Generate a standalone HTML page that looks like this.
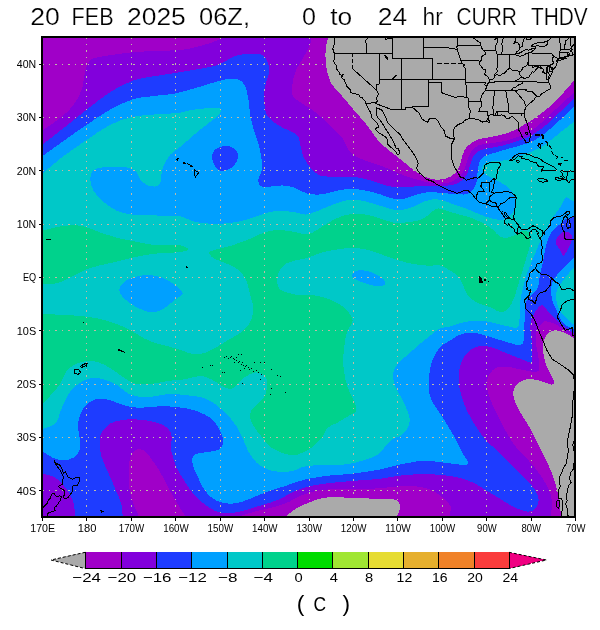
<!DOCTYPE html>
<html><head><meta charset="utf-8"><title>CURR THDV</title>
<style>html,body{margin:0;padding:0;background:#fff}body{width:600px;height:630px;position:relative;overflow:hidden;font-family:"Liberation Sans",sans-serif}</style></head>
<body>
<svg width="600" height="630" viewBox="0 0 600 630" style="position:absolute;left:0;top:0">
<defs><clipPath id="cp"><rect x="42" y="37" width="533" height="480"/></clipPath></defs>
<rect x="0" y="0" width="600" height="630" fill="#fff"/>
<g clip-path="url(#cp)" shape-rendering="crispEdges">
<rect x="42" y="37" width="533" height="480" fill="#8200dc"/>
<path d="M221.5,30.0 C221.4,31.3 223.0,35.8 221.0,38.0 C219.0,40.2 214.3,41.6 209.7,43.2 C205.1,44.8 198.6,46.6 193.3,47.8 C188.0,49.0 184.1,49.7 178.0,50.2 C171.9,50.7 164.5,50.5 156.7,50.9 C148.9,51.3 140.7,51.5 131.0,52.5 C121.3,53.5 105.1,55.8 98.3,57.2 C91.5,58.6 92.3,58.6 90.2,60.7 C88.1,62.8 86.9,65.3 85.5,70.0 C84.1,74.7 83.8,83.2 82.0,88.7 C80.2,94.2 78.1,98.2 75.0,102.7 C71.9,107.2 68.8,110.8 63.3,115.5 C57.8,120.2 47.8,126.8 42.3,130.7 C36.8,134.6 32.0,137.6 30.0,139.0 L22.0,139.0 L22.0,17.0 L221.5,17.0 Z" fill="#a000c8"/>
<path d="M311.5,30.0 C311.4,31.3 311.2,35.6 311.0,38.0 C310.8,40.4 311.3,40.9 310.0,44.3 C308.7,47.7 305.3,54.0 303.0,58.3 C300.7,62.6 297.8,65.7 296.0,70.0 C294.2,74.3 293.0,79.7 292.5,84.0 C292.0,88.3 291.4,92.6 292.8,95.7 C294.2,98.8 297.7,100.3 300.7,102.5 C303.7,104.7 307.2,106.2 311.0,109.0 C314.8,111.8 319.3,115.4 323.3,119.0 C327.3,122.6 331.7,127.4 335.0,130.7 C338.3,134.0 340.9,135.6 343.1,138.7 C345.4,141.8 346.1,146.4 348.5,149.5 C350.9,152.6 353.9,155.1 357.2,157.1 C360.4,159.1 364.0,159.9 368.0,161.4 C372.0,162.9 376.7,164.2 381.0,165.8 C385.3,167.4 389.7,169.4 394.0,171.2 C398.3,173.0 402.4,175.0 407.0,176.6 C411.6,178.2 417.3,179.7 421.7,180.8 C426.1,181.9 429.4,182.9 433.3,183.3 C437.2,183.7 441.7,183.7 445.0,183.3 C448.3,182.9 450.8,182.1 453.3,180.8 C455.8,179.6 458.1,177.8 460.0,175.8 C461.9,173.8 463.4,171.4 464.6,168.8 C465.9,166.2 466.4,162.8 467.5,160.0 C468.6,157.2 469.1,154.2 471.0,151.7 C472.9,149.2 475.6,146.6 479.0,145.2 C482.4,143.8 487.4,143.9 491.7,143.2 C496.0,142.5 500.6,141.9 504.7,141.0 C508.8,140.1 512.7,138.8 516.4,137.5 C520.1,136.2 523.8,134.5 526.7,133.0 C529.6,131.5 531.6,130.4 534.0,128.7 C536.4,127.0 538.8,124.9 541.3,122.8 C543.8,120.7 546.2,118.5 548.7,116.2 C551.2,113.9 553.6,111.3 556.0,109.0 C558.4,106.7 560.6,104.8 563.3,102.3 C566.0,99.8 568.5,97.6 572.1,94.2 C575.7,90.8 582.9,84.0 585.0,82.0 L595.0,82.0 L595.0,17.0 L311.5,17.0 Z" fill="#a000c8"/>
<path d="M585.0,343.0 C583.2,341.9 577.0,338.4 574.0,336.6 C571.0,334.8 569.1,333.8 567.0,332.3 C564.9,330.9 563.4,329.2 561.6,327.9 C559.8,326.6 558.0,325.6 556.2,324.7 C554.4,323.8 552.8,323.1 550.8,322.5 C548.8,321.9 546.1,320.8 544.3,321.4 C542.5,321.9 541.2,324.2 539.9,325.8 C538.6,327.4 537.4,329.3 536.7,331.2 C536.0,333.1 535.6,334.5 535.6,337.3 C535.6,340.1 536.2,344.6 536.7,348.2 C537.2,351.8 538.4,355.8 538.8,359.0 C539.2,362.2 539.6,365.5 539.3,367.7 C538.9,369.9 538.6,371.5 536.7,372.0 C534.8,372.5 531.2,371.4 528.0,370.9 C524.8,370.4 520.8,369.5 517.2,368.8 C513.6,368.1 509.7,366.8 506.3,366.6 C502.9,366.4 499.3,366.6 496.6,367.7 C493.9,368.8 491.7,370.8 490.1,373.1 C488.5,375.5 487.2,378.7 486.8,381.8 C486.4,384.9 487.0,387.7 487.9,391.5 C488.8,395.3 490.7,400.5 492.3,404.5 C493.9,408.5 495.9,411.7 497.7,415.3 C499.5,418.9 501.4,422.9 503.1,426.2 C504.8,429.5 505.9,431.5 508.0,435.0 C510.1,438.5 512.5,442.6 516.0,447.0 C519.5,451.4 525.3,456.7 529.3,461.3 C533.3,465.9 536.9,470.2 540.0,474.7 C543.1,479.1 546.0,483.6 548.0,488.0 C550.0,492.4 551.5,496.5 552.0,501.3 C552.5,506.1 551.0,512.2 550.7,517.0 C550.4,521.8 550.1,527.8 550.0,530.0 L550.0,537.0 L595.0,537.0 L595.0,343.0 Z" fill="#a000c8"/>
<path d="M141.0,530.0 C140.6,527.7 140.0,520.3 138.7,516.0 C137.4,511.7 134.9,508.7 133.3,504.0 C131.7,499.3 130.1,493.8 129.3,488.0 C128.6,482.2 128.6,474.6 128.8,469.3 C129.0,464.0 129.3,459.3 130.7,456.0 C132.1,452.7 134.9,450.1 137.3,449.3 C139.7,448.6 142.8,449.6 145.3,451.5 C147.8,453.4 150.1,457.2 152.5,460.5 C154.9,463.8 157.2,467.1 159.5,471.0 C161.8,474.9 164.2,479.7 166.5,484.0 C168.8,488.3 171.2,492.9 173.5,497.0 C175.8,501.1 178.4,505.2 180.5,508.5 C182.6,511.8 184.1,513.8 186.0,517.0 C187.9,520.2 191.0,526.2 192.0,528.0 L192.0,537.0 L141.0,537.0 Z" fill="#a000c8"/>
<path d="M225.0,524.0 C227.2,522.8 234.1,518.8 238.0,517.0 C241.9,515.2 244.7,514.5 248.7,513.3 C252.7,512.1 257.6,511.0 262.0,509.9 C266.4,508.8 270.9,508.0 275.3,506.7 C279.8,505.4 284.6,503.8 288.7,502.0 C292.8,500.2 295.3,497.9 300.0,496.0 C304.7,494.1 311.2,491.8 316.7,490.7 C322.1,489.6 327.4,489.5 332.7,489.3 C338.0,489.1 343.4,489.3 348.7,489.3 C354.0,489.3 359.4,489.5 364.7,489.3 C370.0,489.1 375.4,488.4 380.7,488.0 C386.0,487.6 391.8,487.1 396.7,486.7 C401.6,486.3 405.6,485.8 410.0,485.9 C414.4,486.0 419.3,486.6 423.3,487.5 C427.3,488.4 430.6,489.6 434.0,491.5 C437.4,493.4 441.2,496.2 444.0,498.7 C446.8,501.2 449.8,503.6 450.7,506.7 C451.6,509.8 449.9,513.1 449.3,517.0 C448.7,520.9 447.4,527.8 447.0,530.0 L447.0,537.0 L225.0,537.0 Z" fill="#a000c8"/>
<path d="M328.5,30.0 C328.4,31.3 328.5,34.8 328.0,38.0 C327.5,41.2 326.0,44.5 325.7,49.0 C325.4,53.5 325.3,59.8 326.1,65.3 C326.9,70.8 328.0,77.0 330.3,81.7 C332.6,86.4 335.8,88.6 339.7,93.3 C343.6,98.0 349.0,104.2 353.7,109.7 C358.4,115.2 363.9,121.2 367.7,126.0 C371.5,130.8 373.8,135.1 376.7,138.7 C379.6,142.2 382.1,144.4 385.3,147.3 C388.6,150.2 392.6,153.1 396.2,156.0 C399.8,158.9 403.6,162.0 407.0,164.7 C410.4,167.4 413.4,170.2 416.7,172.3 C420.0,174.4 423.4,176.3 426.7,177.5 C430.0,178.7 433.4,179.6 436.7,179.7 C440.0,179.8 443.6,179.4 446.7,178.3 C449.8,177.2 452.8,175.5 455.0,173.3 C457.2,171.1 458.8,168.0 460.0,165.0 C461.2,162.0 461.3,158.6 462.5,155.5 C463.7,152.4 464.5,149.2 467.0,146.5 C469.5,143.8 473.9,141.2 477.7,139.6 C481.5,138.0 485.5,138.2 490.0,137.2 C494.5,136.2 500.3,135.1 504.7,133.8 C509.1,132.5 513.2,130.9 516.4,129.4 C519.6,127.9 521.2,126.3 523.7,124.8 C526.2,123.3 528.7,122.1 531.1,120.6 C533.5,119.0 535.5,117.7 538.4,115.5 C541.3,113.3 545.8,110.0 548.7,107.4 C551.6,104.9 553.6,102.6 556.0,100.2 C558.4,97.8 561.3,94.9 563.3,92.8 C565.3,90.7 566.1,89.7 568.0,87.5 C569.9,85.3 571.7,83.2 574.5,79.8 C577.3,76.4 583.2,69.1 585.0,67.0 L595.0,67.0 L595.0,17.0 L328.5,17.0 Z" fill="#aaaaaa"/>
<path d="M585.0,344.0 C583.1,343.0 577.2,339.8 573.5,337.8 C569.8,335.8 566.1,333.1 562.7,331.9 C559.3,330.7 555.6,330.1 552.9,330.6 C550.2,331.2 548.0,333.0 546.4,335.2 C544.8,337.4 543.7,340.6 543.2,343.8 C542.7,347.1 543.1,351.1 543.6,354.7 C544.1,358.3 545.2,362.2 546.4,365.5 C547.6,368.8 549.5,371.5 550.8,374.2 C552.1,376.9 553.8,380.1 554.0,381.8 C554.2,383.5 553.6,384.6 551.8,384.6 C550.0,384.6 546.1,382.6 543.2,381.8 C540.3,381.0 537.4,380.0 534.5,379.6 C531.6,379.2 528.5,379.1 525.8,379.6 C523.1,380.1 520.3,381.2 518.3,382.8 C516.3,384.4 514.6,386.8 513.9,389.3 C513.2,391.8 513.2,394.8 513.9,398.0 C514.6,401.2 516.5,405.2 518.3,408.8 C520.1,412.4 522.7,416.2 524.8,419.7 C526.9,423.2 529.3,426.9 531.0,430.0 C532.7,433.1 533.3,435.1 535.0,438.5 C536.7,441.9 539.1,446.4 541.3,450.7 C543.5,454.9 546.0,459.6 548.0,464.0 C550.0,468.4 551.8,472.9 553.3,477.3 C554.8,481.8 556.3,486.6 557.3,490.7 C558.3,494.8 558.9,497.8 559.5,502.0 C560.1,506.2 560.6,511.3 561.0,516.0 C561.4,520.7 561.8,527.7 562.0,530.0 L562.0,537.0 L595.0,537.0 L595.0,344.0 Z" fill="#aaaaaa"/>
<path d="M278.0,524.0 C279.2,522.8 282.8,519.0 285.0,517.0 C287.2,515.0 288.9,513.7 291.3,512.0 C293.7,510.3 296.4,508.2 299.3,506.7 C302.2,505.1 304.9,504.1 308.7,502.7 C312.5,501.3 317.1,499.0 322.0,498.1 C326.9,497.2 332.2,497.3 338.0,497.3 C343.8,497.3 350.5,497.9 356.7,498.1 C362.9,498.3 369.3,498.5 375.3,498.7 C381.3,498.9 388.8,498.5 392.7,499.2 C396.6,499.9 397.6,501.0 398.8,502.7 C400.0,504.4 400.2,506.9 399.9,509.3 C399.5,511.7 397.8,513.9 396.7,517.0 C395.6,520.1 393.6,526.2 393.0,528.0 L393.0,537.0 L278.0,537.0 Z" fill="#aaaaaa"/>
<path d="M30.0,153.5 C32.0,152.0 36.8,148.9 42.3,144.7 C47.8,140.5 55.9,134.1 63.3,128.3 C70.7,122.5 78.9,115.7 86.7,109.7 C94.5,103.7 102.2,97.1 110.0,92.2 C117.8,87.3 125.5,83.2 133.3,80.5 C141.1,77.8 149.8,77.0 156.7,75.8 C163.6,74.5 168.9,74.0 175.0,73.0 C181.1,72.0 186.4,71.3 193.3,70.0 C200.2,68.7 210.5,67.2 216.7,65.3 C222.9,63.3 226.8,60.0 230.7,58.3 C234.6,56.5 235.3,55.5 240.0,54.8 C244.7,54.1 254.4,53.5 258.7,54.1 C263.0,54.7 263.9,56.0 265.7,58.3 C267.4,60.6 268.8,64.6 269.2,67.7 C269.6,70.8 268.8,73.5 268.0,77.0 C267.2,80.5 265.1,84.0 264.5,88.7 C263.9,93.4 263.9,100.3 264.5,105.0 C265.1,109.7 265.5,113.2 268.0,116.7 C270.5,120.2 275.4,123.3 279.7,126.0 C284.0,128.7 290.5,131.1 293.7,133.0 C296.9,134.9 297.5,135.1 298.7,137.5 C299.9,139.9 299.9,143.9 300.8,147.3 C301.7,150.8 302.3,154.6 304.1,158.2 C305.9,161.8 309.0,166.1 311.7,169.0 C314.4,171.9 316.7,174.3 320.3,175.6 C323.9,176.9 329.0,176.4 333.3,176.6 C337.6,176.8 342.0,176.4 346.3,176.6 C350.6,176.8 355.0,177.0 359.3,177.7 C363.6,178.4 368.0,179.6 372.3,180.9 C376.6,182.2 381.0,184.2 385.3,185.3 C389.6,186.4 394.0,187.2 398.3,187.4 C402.6,187.7 407.4,187.1 411.3,186.8 C415.2,186.5 418.0,186.0 421.7,185.8 C425.4,185.6 429.4,185.8 433.3,185.8 C437.2,185.8 441.4,186.1 445.0,185.8 C448.6,185.5 452.1,185.2 455.0,184.2 C457.9,183.2 460.5,181.7 462.5,180.0 C464.5,178.3 465.8,176.3 467.0,174.0 C468.2,171.7 469.1,168.7 470.0,166.0 C470.9,163.3 471.3,160.3 472.5,158.0 C473.7,155.7 475.0,153.5 477.0,152.0 C479.0,150.5 481.7,149.8 484.5,149.0 C487.3,148.2 490.6,148.1 494.0,147.4 C497.4,146.7 501.0,146.0 504.7,145.0 C508.4,144.0 512.7,142.5 516.4,141.3 C520.1,140.1 523.8,138.8 526.7,137.6 C529.6,136.3 531.6,135.3 534.0,133.8 C536.4,132.3 538.8,130.6 541.3,128.8 C543.8,127.0 546.2,125.0 548.7,122.8 C551.2,120.6 553.6,117.9 556.0,115.6 C558.4,113.3 560.6,111.6 563.3,109.0 C566.0,106.4 569.9,102.4 572.1,100.2 C574.3,98.0 574.2,98.2 576.5,95.8 C578.8,93.4 584.4,87.6 586.0,86.0 L595.0,86.0 L595.0,341.0 L586.0,341.0 C584.0,339.7 576.8,335.1 574.0,333.3 C571.2,331.5 571.1,331.4 569.2,330.1 C567.3,328.9 564.5,327.2 562.7,325.8 C560.9,324.4 559.9,323.0 558.3,321.4 C556.7,319.8 554.7,317.8 552.9,316.0 C551.1,314.2 549.3,312.4 547.5,310.6 C545.7,308.8 543.9,305.4 542.1,305.2 C540.3,305.0 538.2,307.9 536.7,309.5 C535.2,311.1 534.4,312.9 533.4,314.9 C532.4,316.9 531.4,319.0 530.9,321.4 C530.4,323.8 530.3,325.6 530.4,329.0 C530.5,332.4 531.4,337.4 531.7,341.7 C532.0,346.0 532.4,351.3 532.3,354.7 C532.2,358.1 532.7,361.4 531.3,362.3 C529.9,363.2 526.8,361.2 523.7,360.1 C520.6,359.0 516.4,357.2 512.8,355.8 C509.2,354.4 505.6,352.8 502.0,351.4 C498.4,349.9 494.8,348.0 491.2,347.1 C487.6,346.2 483.6,345.6 480.3,346.0 C477.1,346.4 474.4,347.5 471.7,349.3 C469.0,351.1 466.1,353.7 464.1,356.8 C462.1,359.9 460.7,363.7 459.8,367.7 C458.9,371.7 458.5,376.4 458.7,380.7 C458.9,385.0 459.7,389.4 460.8,393.7 C461.9,398.0 463.6,402.7 465.2,406.7 C466.8,410.7 468.6,413.9 470.6,417.5 C472.6,421.1 474.9,424.9 477.1,428.3 C479.3,431.7 481.5,435.1 484.0,438.0 C486.5,440.9 488.0,442.1 492.0,446.0 C496.0,449.9 502.7,456.1 508.0,461.3 C513.3,466.5 519.5,472.6 524.0,477.3 C528.5,482.0 532.2,485.5 534.7,489.3 C537.2,493.1 538.7,496.7 538.7,500.0 C538.7,503.3 536.7,507.4 534.7,509.3 C532.7,511.2 530.3,511.9 526.7,511.5 C523.1,511.1 517.8,508.8 513.3,506.7 C508.8,504.6 504.4,501.4 500.0,498.7 C495.6,496.0 491.1,493.4 486.7,490.7 C482.2,488.0 478.2,484.9 473.3,482.7 C468.4,480.5 463.1,478.6 457.3,477.3 C451.5,476.0 444.6,475.2 438.7,474.7 C432.8,474.2 426.8,474.3 422.0,474.3 C417.2,474.3 414.2,474.4 410.0,474.7 C405.8,475.0 401.6,475.3 396.7,476.0 C391.8,476.7 386.0,478.0 380.7,478.7 C375.4,479.4 370.0,479.6 364.7,480.0 C359.4,480.4 354.0,480.9 348.7,481.3 C343.4,481.8 338.0,482.1 332.7,482.7 C327.4,483.3 321.6,483.9 316.7,484.8 C311.8,485.7 307.4,486.7 303.3,488.0 C299.2,489.3 295.7,490.8 292.0,492.5 C288.3,494.2 284.7,496.8 281.0,498.5 C277.3,500.2 274.1,501.3 270.0,502.7 C265.9,504.1 261.1,505.4 256.7,506.7 C252.2,508.0 247.8,509.6 243.3,510.7 C238.9,511.8 234.2,513.1 230.0,513.3 C225.8,513.5 222.0,513.3 218.0,512.0 C214.0,510.7 210.0,508.2 206.0,505.3 C202.0,502.4 197.6,498.7 194.0,494.7 C190.4,490.7 187.6,485.8 184.7,481.3 C181.8,476.9 178.7,472.2 176.7,468.0 C174.7,463.8 173.7,459.6 172.7,456.0 C171.7,452.4 170.9,449.8 170.8,446.7 C170.7,443.6 172.2,440.2 171.9,437.3 C171.6,434.4 170.6,431.5 168.7,429.3 C166.8,427.1 164.3,425.5 160.7,424.0 C157.1,422.5 152.3,421.3 147.0,420.5 C141.7,419.7 134.1,419.1 128.7,419.3 C123.3,419.5 118.2,420.6 114.7,421.7 C111.2,422.8 109.7,423.6 107.4,425.6 C105.1,427.6 102.4,430.9 101.1,433.5 C99.8,436.1 99.5,437.6 99.5,441.4 C99.5,445.1 99.9,450.9 101.3,456.0 C102.7,461.1 105.5,466.2 108.0,472.0 C110.5,477.8 113.8,485.4 116.0,490.7 C118.2,496.0 120.2,499.8 121.3,504.0 C122.4,508.2 122.3,511.7 122.7,516.0 C123.1,520.3 123.4,527.7 123.5,530.0 L123.5,537.0 L75.3,537.0 L75.3,530.0 C75.2,527.7 74.9,520.3 74.7,516.0 C74.5,511.7 74.8,507.8 73.9,504.0 C73.0,500.2 71.4,496.9 69.3,493.3 C67.2,489.8 64.2,485.6 61.3,482.7 C58.4,479.8 55.1,477.4 52.0,476.0 C48.9,474.6 46.4,474.6 42.7,474.1 C39.0,473.6 32.1,473.2 30.0,473.0 L22.0,473.0 L22.0,153.5 Z" fill="#1e3cff"/>
<path d="M30.0,165.0 C32.0,163.6 36.8,160.3 42.3,156.3 C47.8,152.3 55.9,146.4 63.3,141.2 C70.7,135.9 78.9,130.0 86.7,124.8 C94.5,119.5 102.2,114.0 110.0,109.7 C117.8,105.4 125.5,101.5 133.3,99.2 C141.1,96.9 149.8,96.7 156.7,95.7 C163.6,94.8 168.9,94.7 175.0,93.5 C181.1,92.3 186.4,90.7 193.3,88.7 C200.2,86.7 210.9,83.3 216.7,81.7 C222.5,80.1 224.6,79.2 228.3,78.9 C232.0,78.6 236.1,78.8 238.8,79.8 C241.5,80.8 243.1,82.2 244.7,85.2 C246.3,88.2 247.2,92.8 248.2,98.0 C249.2,103.2 249.5,111.2 250.5,116.7 C251.5,122.2 252.6,126.0 254.0,130.7 C255.4,135.4 257.4,139.6 258.7,144.7 C260.0,149.8 261.3,156.6 261.8,161.0 C262.3,165.4 262.1,167.9 261.5,171.0 C260.9,174.1 258.6,176.8 258.4,179.3 C258.2,181.8 258.5,184.8 260.5,186.0 C262.5,187.2 266.7,186.7 270.3,186.6 C273.9,186.5 278.5,185.4 282.0,185.4 C285.5,185.4 288.7,186.1 291.5,186.8 C294.3,187.5 296.1,188.5 298.7,189.6 C301.3,190.7 304.1,192.8 307.3,193.6 C310.6,194.4 314.6,194.7 318.2,194.6 C321.8,194.5 325.4,193.5 329.0,192.8 C332.6,192.1 335.8,190.8 339.8,190.2 C343.8,189.5 348.5,188.8 352.8,188.9 C357.1,189.0 361.5,189.9 365.8,190.7 C370.1,191.5 374.5,192.6 378.8,193.9 C383.1,195.2 387.8,197.4 391.8,198.3 C395.8,199.2 399.4,199.6 402.7,199.3 C405.9,199.0 408.7,197.2 411.3,196.3 C413.9,195.4 416.1,194.6 418.5,194.0 C420.9,193.4 423.0,192.8 426.0,192.5 C429.0,192.2 432.7,192.3 436.7,192.5 C440.7,192.7 446.4,193.4 450.0,193.7 C453.6,194.0 455.5,194.1 458.3,194.2 C461.1,194.3 464.3,194.9 466.7,194.2 C469.1,193.5 470.9,191.8 472.5,190.0 C474.1,188.2 475.5,185.8 476.3,183.3 C477.1,180.8 477.0,177.8 477.3,175.0 C477.6,172.2 477.7,169.1 478.3,166.5 C478.9,163.9 479.6,161.4 481.0,159.5 C482.4,157.6 484.3,156.3 486.5,155.2 C488.7,154.1 491.0,153.9 494.0,153.0 C497.0,152.1 501.0,150.9 504.7,149.8 C508.4,148.7 512.7,147.7 516.4,146.6 C520.1,145.5 523.8,144.5 526.7,143.5 C529.6,142.5 531.6,141.8 534.0,140.5 C536.4,139.2 538.8,137.7 541.3,136.0 C543.8,134.3 546.2,132.3 548.7,130.2 C551.2,128.1 553.6,125.8 556.0,123.6 C558.4,121.4 560.6,119.6 563.3,117.0 C566.0,114.4 569.9,110.4 572.1,108.2 C574.3,106.0 574.2,106.2 576.5,103.8 C578.8,101.4 584.4,95.6 586.0,94.0 L595.0,94.0 L595.0,215.5 L586.0,215.5 C584.2,215.7 577.7,216.4 575.0,216.7 C572.3,217.0 571.7,217.1 570.0,217.5 C568.3,217.9 566.4,218.2 565.0,219.2 C563.6,220.2 563.1,222.1 561.7,223.3 C560.3,224.6 558.4,225.3 556.7,226.7 C555.0,228.1 553.1,229.8 551.7,231.7 C550.3,233.6 549.3,235.8 548.3,238.3 C547.3,240.8 546.5,243.9 545.8,246.7 C545.1,249.5 544.8,251.9 544.2,255.0 C543.6,258.1 543.0,261.7 542.3,265.0 C541.6,268.3 540.3,272.0 539.8,275.0 C539.2,278.0 539.6,280.4 539.0,283.0 C538.4,285.6 537.7,288.5 536.2,290.7 C534.7,292.9 531.6,294.3 530.0,296.0 C528.4,297.7 527.0,299.5 526.3,301.0 C525.6,302.5 526.0,303.4 525.8,305.2 C525.6,307.0 525.5,309.5 525.3,311.7 C525.1,313.9 524.9,316.0 524.8,318.2 C524.6,320.4 524.5,322.2 524.4,324.7 C524.3,327.2 524.5,330.6 524.4,333.3 C524.3,336.0 524.4,338.9 523.7,340.9 C523.1,342.9 522.3,344.7 520.5,345.2 C518.7,345.7 515.9,344.6 512.8,343.8 C509.7,343.0 505.6,341.7 502.0,340.6 C498.4,339.5 494.8,338.4 491.2,337.3 C487.6,336.2 483.9,334.9 480.3,334.1 C476.7,333.3 473.1,332.4 469.5,332.6 C465.9,332.8 461.9,333.9 458.7,335.2 C455.4,336.5 452.5,339.1 450.0,340.6 C447.5,342.2 445.5,343.0 443.5,344.5 C441.5,346.0 439.6,347.8 438.0,349.8 C436.4,351.8 435.5,353.3 434.2,356.3 C432.9,359.3 431.1,363.7 430.2,368.0 C429.3,372.3 428.9,377.7 428.8,382.0 C428.7,386.3 428.8,390.2 429.5,393.7 C430.2,397.2 431.5,400.1 433.0,403.0 C434.5,405.9 436.2,407.5 438.5,411.0 C440.8,414.5 444.0,419.6 446.7,424.0 C449.4,428.4 452.0,432.4 454.7,437.3 C457.4,442.2 460.5,448.9 462.7,453.3 C464.9,457.8 469.3,462.2 468.0,464.0 C466.7,465.8 459.6,464.4 454.7,464.0 C449.8,463.6 443.9,462.4 438.7,461.9 C433.5,461.4 428.1,460.7 423.3,460.8 C418.5,460.9 414.4,461.9 410.0,462.7 C405.6,463.4 401.6,464.2 396.7,465.3 C391.8,466.4 386.0,468.2 380.7,469.3 C375.4,470.4 370.0,471.2 364.7,472.0 C359.4,472.8 354.0,473.6 348.7,474.1 C343.4,474.6 338.0,474.7 332.7,475.2 C327.4,475.7 321.6,476.5 316.7,477.3 C311.8,478.1 307.2,479.0 303.3,480.0 C299.4,481.0 296.3,482.1 293.0,483.2 C289.7,484.3 287.1,485.4 283.3,486.7 C279.5,487.9 274.4,489.1 270.0,490.7 C265.6,492.2 261.1,494.2 256.7,496.0 C252.2,497.8 247.3,500.1 243.3,501.3 C239.3,502.6 236.2,503.3 232.7,503.5 C229.1,503.7 225.6,503.7 222.0,502.7 C218.4,501.7 214.4,499.8 211.3,497.3 C208.2,494.9 205.5,491.3 203.3,488.0 C201.1,484.7 199.7,480.9 198.0,477.3 C196.3,473.8 194.1,470.0 193.2,466.7 C192.3,463.4 191.9,459.5 192.7,457.3 C193.5,455.1 195.3,454.2 198.0,453.3 C200.7,452.4 205.1,452.7 208.7,452.0 C212.2,451.3 216.9,450.9 219.3,449.3 C221.7,447.8 223.1,445.6 223.3,442.7 C223.5,439.8 222.2,435.5 220.7,432.0 C219.2,428.5 216.8,424.4 214.2,421.5 C211.6,418.6 208.5,416.6 205.0,414.7 C201.5,412.8 197.2,411.2 193.3,410.0 C189.4,408.8 185.6,408.3 181.7,407.7 C177.8,407.1 174.2,406.7 170.0,406.5 C165.8,406.3 162.0,406.3 156.7,406.5 C151.4,406.7 143.4,407.9 138.0,407.7 C132.6,407.5 128.5,406.5 124.0,405.3 C119.5,404.1 114.8,401.6 111.0,400.5 C107.2,399.4 104.3,398.5 101.1,398.6 C97.9,398.7 94.5,399.4 91.6,401.0 C88.7,402.6 85.7,405.1 83.6,408.1 C81.5,411.1 79.8,415.8 78.9,419.2 C78.0,422.6 78.0,425.5 78.1,428.7 C78.2,431.9 79.4,434.9 79.7,438.3 C80.0,441.8 80.6,446.2 79.7,449.4 C78.8,452.6 76.9,455.4 74.1,457.3 C71.3,459.2 66.7,460.5 63.0,460.5 C59.3,460.5 55.2,458.8 51.9,457.3 C48.6,455.8 46.8,454.1 43.1,451.7 C39.5,449.3 32.2,444.4 30.0,443.0 L22.0,443.0 L22.0,165.0 Z" fill="#00a0ff"/>
<path d="M586.0,249.0 C584.0,250.4 577.5,254.7 574.3,257.4 C571.1,260.1 569.2,262.5 566.7,265.0 C564.2,267.5 561.4,269.8 559.0,272.6 C556.6,275.5 553.7,278.6 552.4,282.1 C551.1,285.6 551.1,290.1 551.2,293.6 C551.3,297.1 552.1,300.2 553.0,303.0 C553.9,305.8 555.6,308.2 556.7,310.6 C557.8,313.0 558.4,315.1 559.4,317.1 C560.4,319.1 561.2,320.9 562.7,322.5 C564.2,324.1 566.2,325.7 568.1,326.8 C570.0,327.9 571.0,328.3 574.0,329.0 C577.0,329.7 584.0,330.7 586.0,331.0 L595.0,331.0 L595.0,249.0 Z" fill="#00a0ff"/>
<path d="M30.0,184.0 C32.0,182.3 36.8,178.4 42.3,173.8 C47.8,169.2 55.9,161.9 63.3,156.3 C70.7,150.7 78.9,145.2 86.7,140.0 C94.5,134.8 102.2,128.7 110.0,124.8 C117.8,120.9 125.5,118.5 133.3,116.7 C141.1,115.0 149.2,114.9 156.7,114.3 C164.1,113.7 171.9,113.8 178.0,113.0 C184.1,112.2 186.9,110.6 193.3,109.7 C199.8,108.8 212.1,107.6 216.7,107.8 C221.3,108.0 220.9,109.3 220.9,110.8 C220.9,112.3 219.3,114.2 216.7,116.7 C214.0,119.2 208.9,122.9 205.0,126.0 C201.1,129.1 197.2,132.0 193.3,135.3 C189.4,138.6 185.5,142.6 181.7,145.8 C177.9,149.0 173.5,151.2 170.5,154.5 C167.5,157.8 165.2,162.3 163.7,165.7 C162.2,169.1 161.8,172.4 161.3,175.0 C160.8,177.6 161.6,179.6 160.8,181.5 C160.0,183.4 158.9,185.7 156.7,186.3 C154.4,186.9 150.0,186.4 147.3,185.2 C144.6,184.0 142.2,181.6 140.3,179.3 C138.4,177.0 138.1,173.4 136.0,171.5 C133.9,169.6 131.5,168.5 128.0,167.7 C124.5,166.9 119.5,166.7 115.0,166.7 C110.5,166.7 104.7,167.0 101.0,167.6 C97.3,168.2 94.8,168.6 93.0,170.5 C91.2,172.4 90.1,175.9 90.2,179.3 C90.3,182.7 91.6,187.3 93.7,191.0 C95.8,194.7 99.1,198.2 103.0,201.5 C106.9,204.8 112.0,208.6 117.0,210.8 C122.0,213.0 126.7,214.0 133.3,214.8 C139.9,215.6 150.2,215.4 156.7,215.5 C163.1,215.6 167.8,215.4 172.0,215.6 C176.2,215.8 178.1,215.8 181.7,216.7 C185.2,217.6 188.6,220.1 193.3,221.3 C198.0,222.5 203.9,223.4 209.7,223.7 C215.5,224.0 222.5,223.8 228.3,223.2 C234.1,222.6 239.6,221.5 244.7,220.2 C249.8,218.9 254.4,216.9 258.7,215.5 C263.0,214.1 266.4,212.8 270.3,212.0 C274.2,211.2 277.7,210.7 282.0,210.8 C286.3,210.9 292.2,211.9 296.0,212.5 C299.8,213.1 302.4,214.4 305.0,214.5 C307.6,214.6 308.6,214.2 311.7,213.2 C314.8,212.2 319.4,210.1 323.3,208.5 C327.2,206.9 331.1,205.2 335.0,203.8 C338.9,202.4 342.8,201.0 346.7,200.3 C350.6,199.7 354.4,199.5 358.3,199.9 C362.2,200.3 366.1,201.6 370.0,202.7 C373.9,203.8 377.8,205.0 381.7,206.2 C385.6,207.4 389.8,209.1 393.3,209.7 C396.8,210.3 399.6,210.1 402.7,209.7 C405.8,209.3 408.9,208.5 412.0,207.3 C415.1,206.1 418.2,204.0 421.3,202.7 C424.4,201.4 427.9,200.2 430.7,199.7 C433.5,199.2 435.4,199.2 438.0,199.5 C440.6,199.8 443.4,200.7 446.0,201.5 C448.6,202.3 450.4,203.2 453.3,204.2 C456.2,205.2 460.0,206.2 463.3,207.5 C466.6,208.8 470.0,210.3 473.3,211.7 C476.6,213.1 480.2,214.7 483.3,215.8 C486.4,216.9 488.9,217.6 491.7,218.3 C494.5,219.0 497.6,220.0 500.0,220.0 C502.4,220.0 504.1,219.5 506.0,218.5 C507.9,217.5 510.0,216.2 511.7,214.0 C513.4,211.8 515.5,208.0 516.0,205.0 C516.5,202.0 516.2,198.8 515.0,196.0 C513.8,193.2 511.5,190.3 509.0,188.0 C506.5,185.7 502.8,183.7 500.0,182.0 C497.2,180.3 494.5,179.3 492.0,178.0 C489.5,176.7 486.7,175.7 485.0,174.0 C483.3,172.3 481.8,169.8 482.0,168.0 C482.2,166.2 484.0,164.2 486.0,163.0 C488.0,161.8 491.3,161.4 494.0,161.0 C496.7,160.6 499.5,160.8 502.0,160.6 C504.5,160.4 506.2,160.4 509.1,159.6 C512.0,158.8 516.1,157.1 519.3,156.0 C522.5,154.9 524.9,154.2 528.1,153.0 C531.3,151.8 535.5,150.1 538.4,148.6 C541.3,147.1 543.2,145.9 545.7,144.2 C548.2,142.5 550.7,140.3 553.1,138.3 C555.5,136.3 558.0,134.4 560.4,132.4 C562.8,130.4 565.5,128.3 567.7,126.6 C569.9,124.9 572.1,123.3 573.6,122.2 C575.1,121.1 574.4,121.7 576.5,120.0 C578.6,118.3 584.4,113.3 586.0,112.0 L595.0,112.0 L595.0,210.0 L586.0,210.0 C584.2,208.8 577.7,204.3 575.0,202.5 C572.3,200.7 571.5,200.0 570.0,199.2 C568.5,198.4 567.0,196.8 565.8,197.5 C564.5,198.2 563.8,201.2 562.5,203.3 C561.2,205.4 559.8,207.8 558.3,210.0 C556.8,212.2 555.0,214.2 553.3,216.7 C551.6,219.2 549.8,222.2 548.3,225.0 C546.8,227.8 545.6,230.5 544.2,233.3 C542.8,236.1 541.2,238.9 540.0,241.7 C538.8,244.5 538.0,246.9 536.7,250.0 C535.4,253.1 534.1,255.9 532.4,260.0 C530.7,264.1 528.3,269.9 526.7,274.5 C525.1,279.1 524.0,283.5 522.9,287.9 C521.8,292.3 520.9,296.8 520.4,300.8 C519.9,304.8 520.1,308.1 519.9,311.7 C519.7,315.3 519.7,319.9 519.3,322.5 C518.9,325.1 518.7,326.8 517.3,327.5 C515.9,328.2 514.0,327.6 510.7,327.0 C507.4,326.4 502.0,324.8 497.7,323.8 C493.4,322.8 489.0,321.7 484.7,321.2 C480.4,320.7 475.7,320.7 471.7,321.0 C467.7,321.3 464.4,322.1 460.8,323.0 C457.2,323.9 453.5,325.6 450.0,326.5 C446.5,327.4 443.2,327.0 440.0,328.5 C436.8,330.0 434.2,332.6 430.7,335.3 C427.2,338.0 422.9,341.4 419.0,344.7 C415.1,348.0 410.8,352.1 407.3,355.2 C403.8,358.3 400.3,360.4 398.0,363.3 C395.7,366.2 393.9,369.2 393.3,372.7 C392.7,376.2 393.3,380.4 394.5,384.3 C395.7,388.2 398.4,392.1 400.3,396.0 C402.2,399.9 404.6,403.8 406.2,407.7 C407.8,411.6 409.5,415.8 409.7,419.3 C409.9,422.8 408.9,426.0 407.3,428.7 C405.7,431.4 402.7,434.0 400.3,435.7 C397.9,437.4 395.4,437.4 393.0,439.0 C390.6,440.6 388.5,442.7 386.0,445.3 C383.5,447.9 381.6,452.2 378.0,454.7 C374.4,457.1 369.6,458.4 364.7,460.0 C359.8,461.6 354.0,463.1 348.7,464.0 C343.4,464.9 338.0,465.1 332.7,465.3 C327.4,465.5 321.6,465.1 316.7,465.3 C311.8,465.5 307.1,465.8 303.3,466.7 C299.5,467.6 297.8,469.8 294.0,470.7 C290.2,471.6 285.1,472.2 280.7,472.0 C276.2,471.8 271.3,470.9 267.3,469.3 C263.3,467.8 259.8,465.6 256.7,462.7 C253.6,459.8 250.9,455.8 248.7,452.0 C246.5,448.2 245.3,444.2 243.3,440.0 C241.3,435.8 239.4,430.9 236.7,426.7 C234.0,422.5 230.6,418.3 227.3,414.7 C224.0,411.1 220.4,408.0 216.7,405.3 C213.0,402.6 208.9,399.9 205.0,398.3 C201.1,396.8 197.2,396.6 193.3,396.0 C189.4,395.4 185.6,395.2 181.7,394.8 C177.8,394.4 174.2,393.5 170.0,393.7 C165.8,393.9 161.2,395.4 156.7,396.0 C152.1,396.6 147.4,397.6 142.7,397.2 C138.0,396.8 133.1,395.8 128.7,393.7 C124.2,391.6 120.1,386.7 116.0,384.3 C111.9,381.9 107.8,380.6 104.3,379.5 C100.8,378.4 97.6,377.9 94.7,377.9 C91.8,377.9 89.4,378.6 86.8,379.5 C84.2,380.4 81.6,381.6 78.9,383.5 C76.2,385.4 73.3,387.6 70.9,390.6 C68.5,393.6 66.4,398.0 64.6,401.7 C62.7,405.4 61.0,409.7 59.8,412.9 C58.6,416.1 58.7,418.7 57.4,420.8 C56.1,422.9 54.3,424.3 51.9,425.6 C49.5,426.9 46.8,427.8 43.1,428.7 C39.5,429.6 32.2,430.6 30.0,431.0 L22.0,431.0 L22.0,184.0 Z" fill="#00c8c8"/>
<path d="M586.0,256.0 C584.0,257.8 577.8,263.3 574.3,267.0 C570.8,270.7 567.7,274.5 564.8,278.3 C561.9,282.1 558.5,286.3 557.1,289.8 C555.7,293.3 555.9,296.1 556.2,299.3 C556.5,302.5 557.6,306.0 559.0,308.8 C560.4,311.6 562.8,314.0 564.8,316.4 C566.8,318.8 569.4,321.5 571.3,323.0 C573.2,324.5 573.5,324.5 576.0,325.2 C578.5,325.9 584.3,326.7 586.0,327.0 L595.0,327.0 L595.0,256.0 Z" fill="#00c8c8"/>
<path d="M30.0,233.5 C32.0,233.0 36.8,231.9 42.3,230.7 C47.8,229.4 56.7,226.8 63.3,226.0 C69.9,225.2 76.2,225.0 82.0,226.0 C87.8,227.0 92.5,229.9 98.3,231.8 C104.1,233.8 111.2,236.1 117.0,237.7 C122.8,239.3 127.5,240.0 133.3,241.2 C139.1,242.4 145.8,244.0 152.0,244.7 C158.2,245.3 166.1,245.1 170.7,245.1 C175.2,245.1 176.3,244.2 179.3,244.9 C182.3,245.6 188.7,248.1 188.7,249.3 C188.7,250.5 183.1,251.5 179.3,252.1 C175.5,252.7 170.6,252.5 166.0,252.8 C161.4,253.1 157.4,253.2 152.0,254.0 C146.6,254.8 139.5,256.1 133.3,257.5 C127.1,258.9 120.5,260.8 114.7,262.2 C108.9,263.6 103.4,264.3 98.3,265.7 C93.2,267.1 88.6,268.6 84.3,270.3 C80.0,272.1 76.6,274.2 72.7,276.2 C68.8,278.1 64.9,280.6 61.0,282.0 C57.1,283.4 52.5,283.9 49.3,284.3 C46.1,284.7 45.2,284.4 42.0,284.3 C38.8,284.2 32.0,284.1 30.0,284.0 L22.0,284.0 L22.0,233.5 Z" fill="#00d28c"/>
<path d="M30.0,314.0 C32.0,314.1 36.5,314.2 42.0,314.3 C47.5,314.4 55.8,314.4 63.3,314.8 C70.8,315.2 79.7,315.8 86.7,316.7 C93.7,317.6 99.5,318.6 105.3,320.2 C111.1,321.8 117.0,324.1 121.7,326.0 C126.4,327.9 129.4,329.7 133.3,331.8 C137.2,333.9 141.1,336.9 145.0,338.8 C148.9,340.8 152.4,342.1 156.7,343.5 C161.0,344.9 166.5,345.8 170.7,347.0 C174.9,348.2 177.9,349.3 181.7,350.5 C185.5,351.7 189.4,353.6 193.3,354.0 C197.2,354.4 201.1,354.0 205.0,352.8 C208.9,351.6 212.8,349.1 216.7,347.0 C220.6,344.9 224.4,342.3 228.3,340.0 C232.2,337.7 236.5,335.7 240.0,333.0 C243.5,330.3 247.2,326.8 249.3,323.7 C251.4,320.6 252.2,317.4 252.8,314.3 C253.4,311.2 253.0,307.3 252.8,305.0 C252.6,302.7 252.5,303.8 251.7,300.7 C250.9,297.6 249.4,290.6 248.2,286.7 C247.0,282.8 246.4,280.2 244.7,277.3 C242.9,274.4 240.8,271.5 237.7,269.2 C234.6,266.9 229.9,265.1 226.0,263.3 C222.1,261.6 217.1,260.4 214.3,258.7 C211.5,256.9 208.8,254.4 209.2,252.8 C209.6,251.2 213.1,250.5 216.7,249.3 C220.3,248.1 225.6,247.4 230.7,245.8 C235.8,244.2 241.6,242.1 247.0,240.0 C252.4,237.9 258.6,234.6 263.3,233.0 C268.0,231.4 271.1,230.6 275.0,230.2 C278.9,229.8 282.8,230.3 286.7,230.7 C290.6,231.1 295.2,232.2 298.3,232.8 C301.4,233.4 302.8,234.3 305.0,234.3 C307.2,234.3 308.6,234.4 311.7,233.0 C314.8,231.6 319.4,228.3 323.3,226.0 C327.2,223.7 331.1,220.9 335.0,219.0 C338.9,217.1 342.8,215.7 346.7,214.8 C350.6,214.0 354.4,213.8 358.3,213.9 C362.2,214.0 366.1,214.7 370.0,215.5 C373.9,216.3 377.8,217.8 381.7,219.0 C385.6,220.2 389.4,221.9 393.3,222.5 C397.2,223.1 401.1,222.8 405.0,222.5 C408.9,222.2 413.4,221.6 416.7,220.8 C420.0,220.0 422.2,219.2 425.0,217.5 C427.8,215.8 431.1,212.3 433.3,210.8 C435.5,209.3 436.1,208.3 438.3,208.3 C440.5,208.3 443.4,209.8 446.7,210.8 C450.0,211.8 454.4,213.1 458.3,214.2 C462.2,215.3 466.4,216.2 470.0,217.5 C473.6,218.8 477.2,220.4 480.0,221.7 C482.8,222.9 484.5,223.6 486.7,225.0 C488.9,226.4 491.1,228.1 493.3,230.0 C495.5,231.9 497.5,235.4 500.0,236.7 C502.5,237.9 505.5,237.9 508.3,237.5 C511.1,237.1 514.5,235.3 516.7,234.2 C518.9,233.1 519.8,231.2 521.7,230.8 C523.6,230.4 526.9,230.5 528.3,232.0 C529.7,233.5 530.1,237.3 530.3,240.0 C530.4,242.7 530.1,244.5 529.2,248.3 C528.3,252.1 526.5,257.4 524.8,263.0 C523.1,268.6 520.8,276.3 519.0,282.0 C517.2,287.7 515.9,293.2 514.3,297.4 C512.7,301.6 511.2,304.6 509.5,307.0 C507.8,309.4 505.9,311.0 503.8,311.7 C501.7,312.4 499.0,311.7 497.0,311.0 C495.0,310.3 494.9,309.0 491.7,307.7 C488.5,306.4 481.6,304.9 477.7,303.0 C473.8,301.1 470.6,298.7 468.3,296.0 C466.0,293.3 465.2,289.8 463.7,286.7 C462.1,283.6 461.3,280.0 459.0,277.3 C456.7,274.6 452.9,272.3 449.7,270.3 C446.5,268.3 443.6,266.3 440.0,265.5 C436.4,264.7 432.2,265.9 428.3,265.7 C424.4,265.5 420.6,265.1 416.7,264.5 C412.8,263.9 408.9,263.2 405.0,262.2 C401.1,261.2 397.2,260.0 393.3,258.7 C389.4,257.4 385.6,255.9 381.7,254.5 C377.8,253.1 373.9,251.6 370.0,250.5 C366.1,249.4 362.2,248.6 358.3,248.2 C354.4,247.8 350.6,247.9 346.7,248.2 C342.8,248.5 338.9,249.2 335.0,249.8 C331.1,250.5 327.2,251.0 323.3,252.1 C319.4,253.2 314.8,255.2 311.7,256.3 C308.6,257.4 307.2,257.9 305.0,258.5 C302.8,259.1 301.4,259.0 298.3,259.8 C295.2,260.6 289.8,261.6 286.7,263.3 C283.6,265.1 281.3,267.6 279.7,270.3 C278.1,273.0 277.3,276.6 277.3,279.7 C277.3,282.8 277.4,286.7 279.7,289.0 C282.0,291.3 287.9,292.7 291.3,293.7 C294.7,294.7 296.6,294.8 300.0,295.0 C303.4,295.2 307.8,294.6 311.7,295.0 C315.6,295.4 319.4,296.1 323.3,297.2 C327.2,298.3 331.5,300.1 335.0,301.8 C338.5,303.6 341.8,305.6 344.3,307.7 C346.8,309.8 348.8,312.4 350.2,314.7 C351.6,317.0 353.1,318.2 352.5,321.3 C351.9,324.4 348.1,328.7 346.7,333.0 C345.3,337.3 344.9,341.9 344.3,347.0 C343.7,352.1 343.0,357.9 343.2,363.3 C343.4,368.8 344.3,374.6 345.5,379.7 C346.7,384.8 348.6,389.8 350.2,393.7 C351.8,397.6 353.8,400.1 354.8,403.0 C355.8,405.9 357.4,408.9 356.0,411.2 C354.6,413.5 349.8,415.1 346.7,417.0 C343.6,418.9 340.4,421.1 337.3,422.8 C334.2,424.6 330.6,425.1 328.0,427.5 C325.4,429.9 324.8,433.9 322.0,437.3 C319.2,440.7 314.9,445.3 311.3,448.0 C307.8,450.7 303.6,452.1 300.7,453.3 C297.8,454.5 296.9,455.3 294.0,455.3 C291.1,455.3 287.3,454.7 283.3,453.3 C279.3,451.9 273.6,449.4 270.0,446.7 C266.4,444.0 264.7,440.6 262.0,437.3 C259.3,434.0 256.0,430.0 254.0,426.7 C252.0,423.4 250.3,420.2 250.0,417.3 C249.7,414.4 250.9,411.3 252.0,409.3 C253.1,407.3 254.4,407.1 256.3,405.3 C258.2,403.5 261.6,401.0 263.3,398.3 C265.1,395.6 266.2,392.1 266.8,389.0 C267.4,385.9 267.6,382.2 266.8,379.7 C266.0,377.2 264.3,375.0 262.2,373.8 C260.1,372.6 256.9,372.1 254.0,372.7 C251.1,373.3 247.4,375.4 244.7,377.3 C242.0,379.2 240.0,382.4 237.7,384.3 C235.4,386.2 233.4,388.8 230.7,389.0 C228.0,389.2 224.4,387.1 221.3,385.5 C218.2,383.9 215.1,381.2 212.0,379.7 C208.9,378.1 205.8,376.6 202.7,376.2 C199.6,375.8 196.8,376.7 193.3,377.3 C189.8,377.9 185.9,379.1 181.7,379.7 C177.5,380.3 172.5,380.2 168.3,380.8 C164.1,381.4 160.6,382.6 156.7,383.2 C152.8,383.8 148.9,384.3 145.0,384.3 C141.1,384.3 137.2,384.6 133.3,383.2 C129.4,381.8 125.6,378.7 121.7,376.2 C117.8,373.7 113.9,370.3 110.0,368.0 C106.1,365.7 102.2,363.4 98.3,362.2 C94.4,361.0 90.6,360.6 86.7,361.0 C82.8,361.4 78.5,362.7 75.0,364.5 C71.5,366.3 68.5,368.7 66.0,372.0 C63.5,375.3 62.1,380.7 59.8,384.3 C57.4,387.9 54.7,390.6 51.9,393.8 C49.1,397.0 46.8,399.9 43.1,403.3 C39.5,406.7 32.2,412.2 30.0,414.0 L22.0,414.0 L22.0,314.0 Z" fill="#00d28c"/>
<path d="M212.3,155.0 C212.7,152.8 213.8,150.5 215.7,149.0 C217.6,147.5 221.0,146.5 223.7,146.2 C226.4,145.9 229.5,146.1 231.7,147.0 C233.9,147.9 236.0,149.8 237.0,151.7 C238.0,153.6 238.3,156.1 237.9,158.3 C237.5,160.5 236.0,163.2 234.5,165.0 C233.0,166.8 231.0,168.0 229.0,169.0 C227.0,170.0 224.3,171.3 222.3,171.2 C220.3,171.1 218.5,169.9 217.0,168.5 C215.5,167.1 214.0,164.8 213.2,162.5 C212.4,160.2 211.9,157.2 212.3,155.0 Z" fill="#1e3cff"/>
<path d="M119.3,290.0 C119.3,287.3 121.7,284.1 124.0,282.0 C126.3,279.9 129.4,278.5 133.3,277.3 C137.2,276.1 142.6,275.0 147.3,275.0 C152.0,275.0 157.4,276.1 161.3,277.3 C165.2,278.5 168.1,280.4 170.7,282.0 C173.3,283.6 175.0,284.8 177.0,286.7 C179.0,288.6 182.8,291.8 182.8,293.7 C182.8,295.6 179.1,296.7 177.0,298.3 C174.9,299.9 173.1,301.6 170.5,303.5 C167.9,305.4 164.4,308.5 161.3,310.0 C158.2,311.5 155.1,312.3 152.0,312.3 C148.9,312.3 145.8,311.2 142.7,310.0 C139.6,308.8 136.4,307.2 133.3,305.3 C130.2,303.4 126.3,300.9 124.0,298.3 C121.7,295.8 119.3,292.7 119.3,290.0 Z" fill="#00a0ff"/>
<path d="M351.8,276.2 C351.6,274.8 352.9,272.5 354.8,271.5 C356.7,270.5 360.1,270.1 363.0,270.3 C365.9,270.5 369.4,271.6 372.3,272.7 C375.2,273.8 378.4,275.3 380.5,276.9 C382.6,278.4 384.8,280.5 385.2,282.0 C385.6,283.5 384.6,285.3 382.8,286.0 C381.1,286.7 377.6,286.5 374.7,286.0 C371.8,285.5 368.4,284.2 365.3,283.2 C362.2,282.1 358.2,280.9 356.0,279.7 C353.8,278.5 352.0,277.6 351.8,276.2 Z" fill="#00a0ff"/>
<path d="M555.8,240.0 C556.3,238.2 558.5,235.6 560.0,234.2 C561.5,232.8 563.3,231.8 565.0,231.7 C566.7,231.5 568.8,232.3 570.0,233.3 C571.2,234.3 572.4,235.8 572.5,237.5 C572.6,239.2 571.6,241.2 570.8,243.3 C570.0,245.4 568.8,247.9 567.5,250.0 C566.2,252.1 564.5,255.8 563.3,255.8 C562.0,255.8 561.1,251.8 560.0,250.0 C558.9,248.2 557.4,246.7 556.7,245.0 C556.0,243.3 555.2,241.8 555.8,240.0 Z" fill="#8200dc"/>
</g>
<g stroke="#bfbaa6" stroke-width="1" stroke-dasharray="1.6 4.9" shape-rendering="crispEdges" clip-path="url(#cp)">
<line x1="86.5" y1="37" x2="86.5" y2="517"/>
<line x1="131.5" y1="37" x2="131.5" y2="517"/>
<line x1="175.5" y1="37" x2="175.5" y2="517"/>
<line x1="220.5" y1="37" x2="220.5" y2="517"/>
<line x1="264.5" y1="37" x2="264.5" y2="517"/>
<line x1="309.5" y1="37" x2="309.5" y2="517"/>
<line x1="353.5" y1="37" x2="353.5" y2="517"/>
<line x1="397.5" y1="37" x2="397.5" y2="517"/>
<line x1="442.5" y1="37" x2="442.5" y2="517"/>
<line x1="486.5" y1="37" x2="486.5" y2="517"/>
<line x1="531.5" y1="37" x2="531.5" y2="517"/>
<line x1="42" y1="490.5" x2="575" y2="490.5"/>
<line x1="42" y1="437.5" x2="575" y2="437.5"/>
<line x1="42" y1="384.5" x2="575" y2="384.5"/>
<line x1="42" y1="330.5" x2="575" y2="330.5"/>
<line x1="42" y1="277.5" x2="575" y2="277.5"/>
<line x1="42" y1="224.5" x2="575" y2="224.5"/>
<line x1="42" y1="170.5" x2="575" y2="170.5"/>
<line x1="42" y1="117.5" x2="575" y2="117.5"/>
<line x1="42" y1="64.5" x2="575" y2="64.5"/>
</g>
<g clip-path="url(#cp)" shape-rendering="crispEdges">
<path d="M328.5,30.0 C328.4,31.3 328.5,34.8 328.0,38.0 C327.5,41.2 326.0,44.5 325.7,49.0 C325.4,53.5 325.3,59.8 326.1,65.3 C326.9,70.8 328.0,77.0 330.3,81.7 C332.6,86.4 335.8,88.6 339.7,93.3 C343.6,98.0 349.0,104.2 353.7,109.7 C358.4,115.2 363.9,121.2 367.7,126.0 C371.5,130.8 373.8,135.1 376.7,138.7 C379.6,142.2 382.1,144.4 385.3,147.3 C388.6,150.2 392.6,153.1 396.2,156.0 C399.8,158.9 403.6,162.0 407.0,164.7 C410.4,167.4 413.4,170.2 416.7,172.3 C420.0,174.4 423.4,176.3 426.7,177.5 C430.0,178.7 433.4,179.6 436.7,179.7 C440.0,179.8 443.6,179.4 446.7,178.3 C449.8,177.2 452.8,175.5 455.0,173.3 C457.2,171.1 458.8,168.0 460.0,165.0 C461.2,162.0 461.3,158.6 462.5,155.5 C463.7,152.4 464.5,149.2 467.0,146.5 C469.5,143.8 473.9,141.2 477.7,139.6 C481.5,138.0 485.5,138.2 490.0,137.2 C494.5,136.2 500.3,135.1 504.7,133.8 C509.1,132.5 513.2,130.9 516.4,129.4 C519.6,127.9 521.2,126.3 523.7,124.8 C526.2,123.3 528.7,122.1 531.1,120.6 C533.5,119.0 535.5,117.7 538.4,115.5 C541.3,113.3 545.8,110.0 548.7,107.4 C551.6,104.9 553.6,102.6 556.0,100.2 C558.4,97.8 561.3,94.9 563.3,92.8 C565.3,90.7 566.1,89.7 568.0,87.5 C569.9,85.3 571.7,83.2 574.5,79.8 C577.3,76.4 583.2,69.1 585.0,67.0 L595.0,67.0 L595.0,17.0 L328.5,17.0 Z" fill="#aaaaaa"/>
<path d="M585.0,344.0 C583.1,343.0 577.2,339.8 573.5,337.8 C569.8,335.8 566.1,333.1 562.7,331.9 C559.3,330.7 555.6,330.1 552.9,330.6 C550.2,331.2 548.0,333.0 546.4,335.2 C544.8,337.4 543.7,340.6 543.2,343.8 C542.7,347.1 543.1,351.1 543.6,354.7 C544.1,358.3 545.2,362.2 546.4,365.5 C547.6,368.8 549.5,371.5 550.8,374.2 C552.1,376.9 553.8,380.1 554.0,381.8 C554.2,383.5 553.6,384.6 551.8,384.6 C550.0,384.6 546.1,382.6 543.2,381.8 C540.3,381.0 537.4,380.0 534.5,379.6 C531.6,379.2 528.5,379.1 525.8,379.6 C523.1,380.1 520.3,381.2 518.3,382.8 C516.3,384.4 514.6,386.8 513.9,389.3 C513.2,391.8 513.2,394.8 513.9,398.0 C514.6,401.2 516.5,405.2 518.3,408.8 C520.1,412.4 522.7,416.2 524.8,419.7 C526.9,423.2 529.3,426.9 531.0,430.0 C532.7,433.1 533.3,435.1 535.0,438.5 C536.7,441.9 539.1,446.4 541.3,450.7 C543.5,454.9 546.0,459.6 548.0,464.0 C550.0,468.4 551.8,472.9 553.3,477.3 C554.8,481.8 556.3,486.6 557.3,490.7 C558.3,494.8 558.9,497.8 559.5,502.0 C560.1,506.2 560.6,511.3 561.0,516.0 C561.4,520.7 561.8,527.7 562.0,530.0 L562.0,537.0 L595.0,537.0 L595.0,344.0 Z" fill="#aaaaaa"/>
<path d="M278.0,524.0 C279.2,522.8 282.8,519.0 285.0,517.0 C287.2,515.0 288.9,513.7 291.3,512.0 C293.7,510.3 296.4,508.2 299.3,506.7 C302.2,505.1 304.9,504.1 308.7,502.7 C312.5,501.3 317.1,499.0 322.0,498.1 C326.9,497.2 332.2,497.3 338.0,497.3 C343.8,497.3 350.5,497.9 356.7,498.1 C362.9,498.3 369.3,498.5 375.3,498.7 C381.3,498.9 388.8,498.5 392.7,499.2 C396.6,499.9 397.6,501.0 398.8,502.7 C400.0,504.4 400.2,506.9 399.9,509.3 C399.5,511.7 397.8,513.9 396.7,517.0 C395.6,520.1 393.6,526.2 393.0,528.0 L393.0,537.0 L278.0,537.0 Z" fill="#aaaaaa"/>
</g>
<g clip-path="url(#cp)" fill="none" stroke="#000" stroke-width="1" stroke-linejoin="round" shape-rendering="crispEdges">
<path d="M333.8,53.0 L392.6,53.0"/>
<path d="M366.7,35.9 L367.3,38.6 L365.3,40.7 L366.1,43.4 L366.1,53.0"/>
<path d="M383.3,36.0 L385.8,39.2 L390.8,38.3 L393.3,39.4"/>
<path d="M392.6,35.9 L392.6,58.3 L432.6,58.3"/>
<path d="M423.7,35.9 L423.7,58.3"/>
<path d="M379.3,53.0 L379.3,83.9 L378.2,84.7 L376.4,84.5 L376.9,87.1 L376.7,90.3"/>
<path d="M401.5,58.3 L401.5,109.9"/>
<path d="M379.3,79.7 L465.6,79.7"/>
<path d="M352.9,53.0 L352.9,69.0" stroke-dasharray="4 2"/>
<path d="M352.9,69.0 L376.7,90.3"/>
<path d="M376.7,90.3 L378.7,94.1 L377.5,96.2 L376.4,98.9 L377.3,101.0 L376.3,102.5"/>
<path d="M365.7,103.5 L376.3,102.5 L375.9,103.7 L392.6,109.9 L405.3,109.9 L405.3,107.5 L412.7,107.5 L412.3,106.3 L428.1,106.3 L428.2,82.3"/>
<path d="M428.4,79.7 L428.4,82.3 L441.7,82.3 L441.7,92.7 L445.3,94.1 L448.4,95.1 L451.1,96.2 L454.2,97.0 L457.3,97.0 L461.7,96.2 L466.2,97.6"/>
<path d="M465.6,79.7 L465.6,82.3 L466.5,88.2 L466.2,97.6 L468.2,98.1 L468.2,101.0"/>
<path d="M465.6,82.3 L485.5,82.3 L484.5,85.0 L487.5,85.0"/>
<path d="M468.2,101.0 L481.0,101.0"/>
<path d="M468.2,101.0 L468.2,106.3 L469.3,109.0 L470.4,111.1 L469.5,114.9 L469.0,118.6"/>
<path d="M423.7,47.7 L448.4,47.7 L450.6,48.7 L453.7,48.5 L456.4,49.8 L457.5,50.3"/>
<path d="M457.5,50.3 L458.2,53.0 L459.1,55.1 L459.9,57.3 L460.2,59.9 L460.6,60.5 L462.6,63.7 L464.4,64.7 L463.5,66.3 L465.7,68.5 L465.6,79.7"/>
<path d="M437.3,63.7 L462.6,63.7" stroke-dasharray="5 2"/>
<path d="M432.6,58.3 L432.6,79.7"/>
<path d="M457.5,34.9 L457.5,45.0 L456.8,47.1 L457.5,50.3"/>
<path d="M457.5,45.0 L480.7,45.0"/>
<path d="M460.5,60.6 L478.5,60.4 L479.8,61.6"/>
<path d="M473.7,35.9 L473.9,38.6 L475.9,39.7 L477.7,41.3 L480.4,42.9 L480.7,45.0 L481.3,47.7 L483.3,50.3 L485.3,52.5 L485.3,54.1 L482.1,56.2 L481.3,58.3 L481.7,59.9 L479.8,61.6 L479.5,64.2 L481.3,66.3 L483.0,69.0 L485.3,69.8 L485.3,72.2 L484.6,74.3 L487.9,77.0 L488.4,78.3 L490.0,79.8 L489.7,81.8 L488.4,82.3 L487.9,83.9 L487.5,85.0 L485.9,88.7 L485.3,90.3 L483.7,92.5 L481.7,95.7 L480.8,98.3 L481.0,101.0 L481.9,103.7 L481.3,106.3 L479.5,109.0 L478.9,111.7 L487.3,111.7 L487.0,113.8 L487.9,115.9"/>
<path d="M483.3,50.3 L495.9,50.3"/>
<path d="M497.1,54.3 L497.1,67.1 L496.8,69.0 L497.3,71.7 L495.0,74.3 L494.8,75.4"/>
<path d="M490.0,79.8 L492.8,79.3 L494.6,77.0 L494.8,75.4 L496.8,74.6 L499.0,75.4 L501.2,74.9 L502.6,73.5 L505.0,72.9 L506.6,70.6 L509.2,68.5 L510.6,68.5 L511.9,70.1 L514.1,70.9 L517.2,70.4 L519.0,72.1 L520.8,71.1 L522.1,69.5 L522.8,67.9 L524.3,66.9 L526.8,65.3 L527.9,62.6 L528.3,60.3 L528.3,53.0"/>
<path d="M509.2,54.3 L509.2,68.5"/>
<path d="M498.6,54.3 L509.2,54.3 L515.2,54.4"/>
<path d="M528.3,60.3 L528.3,65.2 L549.3,65.2"/>
<path d="M531.6,51.6 L531.6,53.0 L551.2,53.0 L552.6,55.1 L554.1,56.5 L552.3,58.3 L551.9,60.2 L553.0,61.5 L553.9,62.9 L552.3,64.2 L550.8,64.7 L550.3,65.8"/>
<path d="M488.4,82.3 L494.8,82.3 L494.8,81.4 L514.2,81.8 L523.1,81.9 L548.9,82.1"/>
<path d="M523.1,81.9 L522.1,83.4 L519.9,84.5 L517.7,85.3 L515.9,86.9 L512.8,88.2 L511.4,90.3"/>
<path d="M484.8,90.3 L516.8,90.3"/>
<path d="M494.1,90.3 L494.6,90.9 L492.9,106.9 L493.3,114.9"/>
<path d="M505.7,90.3 L507.6,101.7 L508.4,104.7 L508.1,109.0 L508.4,111.7"/>
<path d="M497.3,115.4 L497.5,114.3 L496.8,111.7 L508.4,111.7 L509.0,113.3 L520.8,114.0 L521.5,115.0 L521.6,113.0 L524.1,113.3"/>
<path d="M516.8,90.3 L515.7,91.9 L518.1,94.1 L520.8,97.3 L522.1,98.9 L523.9,101.0 L524.8,103.7 L525.7,105.8 L526.8,106.2"/>
<path d="M516.8,90.3 L519.9,89.3 L525.9,89.5 L525.9,90.2 L526.4,89.8 L527.1,91.3 L532.0,91.4 L537.0,96.4"/>
<path d="M519.0,72.1 L520.3,75.4 L521.8,76.8 L518.6,79.1 L514.2,81.8"/>
<path d="M521.8,76.8 L523.9,78.3 L526.1,78.1 L529.2,77.0 L529.2,75.9 L531.0,74.3 L532.1,71.7 L533.7,72.2 L535.6,70.1 L537.7,67.9 L537.9,66.6 L540.2,68.2 L540.7,67.3"/>
<path d="M532.9,65.2 L532.9,67.9 L535.0,66.6 L537.7,65.7 L539.4,65.3 L540.7,67.3 L541.7,68.5 L543.4,69.3 L543.7,70.6 L542.6,72.2 L543.9,72.7 L545.7,73.5 L547.0,74.3"/>
<path d="M549.3,65.2 L549.7,71.9 L552.6,71.9"/>
<path d="M554.1,56.5 L557.7,58.3"/>
<path d="M558.8,58.3 L559.4,56.7 L559.5,52.7 L560.5,49.0 L560.5,44.5 L559.9,42.3 L560.1,35.9"/>
<path d="M559.5,52.7 L567.0,52.9 L567.0,56.2"/>
<path d="M567.0,52.9 L568.9,52.9 L569.7,54.6 L570.0,55.7"/>
<path d="M560.5,49.0 L569.2,49.3 L570.8,48.3 L571.4,48.4"/>
<path d="M564.1,49.1 L564.3,46.1 L565.7,42.9 L565.9,40.7 L567.9,39.7 L568.3,35.9"/>
<path d="M571.9,47.2 L570.6,45.5 L570.4,35.9"/>
<path d="M384.4,55.1 L387.5,57.8 L388.0,59.7 L385.8,57.3 L384.4,55.1"/>
<path d="M391.7,80.0 L396.7,75.0"/>
<path d="M335.1,35.9 L334.7,42.3 L333.4,47.7 L332.7,48.7 L334.2,53.0 L334.7,57.3 L333.6,61.5 L336.0,65.3 L336.5,69.0 L339.6,72.7 L339.8,74.3 L341.8,75.4 L344.0,74.1 L342.5,75.7 L341.8,77.0 L342.2,78.6 L344.5,79.9 L344.9,81.8 L347.1,86.6 L350.2,89.8 L350.2,92.7 L355.1,93.5 L359.6,95.4 L360.0,97.0 L362.2,97.8 L364.9,101.0 L365.7,103.5 L368.0,107.9 L370.7,112.7 L372.0,118.1 L376.9,122.9 L379.1,127.1 L375.1,128.5 L378.2,132.5 L381.8,134.6 L386.7,137.8 L388.0,144.7 L391.1,147.4 L396.0,151.7 L397.5,154.9 L399.8,153.3 L398.6,149.0 L396.0,147.9 L394.2,143.7 L391.5,138.3 L388.4,133.0 L384.9,127.7 L381.8,122.3 L377.3,117.0 L376.2,111.7 L376.0,107.4"/>
<path d="M376.0,107.4 L381.8,110.1 L385.8,117.0 L387.5,122.3 L393.3,128.2 L400.0,134.6 L404.0,141.0 L409.3,147.9 L413.3,153.3 L416.9,159.7 L418.2,163.9 L416.4,168.2 L419.5,173.0 L422.6,175.4 L426.6,179.4 L432.4,181.3 L437.3,184.7 L442.2,187.1 L448.4,190.1 L454.2,192.2 L457.3,193.5 L463.1,190.9 L467.9,190.6 L471.9,193.8 L476.4,199.7 L479.9,202.6 L485.7,203.7 L489.3,205.3 L492.8,206.6 L495.7,206.6 L496.8,205.8 L497.9,207.9 L500.8,211.9 L504.6,217.3 L505.2,218.6 L504.6,223.1 L507.5,225.3 L508.8,223.9 L509.9,225.8 L513.9,228.7 L514.8,231.9 L515.9,232.2 L517.7,234.1 L520.8,232.7 L523.0,233.8 L525.2,236.5 L526.6,238.3 L528.8,238.1 L530.6,237.0 L529.0,234.1 L529.2,232.7 L531.5,231.1 L532.6,229.3 L535.0,229.0 L537.2,231.7 L538.8,232.5 L537.7,234.1 L539.9,238.5 L541.7,241.3 L542.1,247.1 L541.7,254.6 L543.0,256.7 L541.7,262.6 L537.2,263.7 L535.4,268.5 L531.5,271.9 L530.1,272.7 L528.3,279.1 L526.6,282.3 L527.2,288.7 L526.3,289.0 L529.2,290.9 L531.0,289.3 L529.7,293.5 L529.2,295.1 L524.8,299.9 L524.8,302.1 L525.7,304.7 L525.7,309.0 L530.6,313.3 L531.9,315.4 L535.4,321.8 L536.8,325.5 L540.8,335.7 L543.2,341.3 L547.0,350.6 L550.6,356.5 L552.1,359.1 L557.2,362.3 L563.0,366.1 L568.8,370.3 L573.4,374.9 L574.3,381.0 L574.3,389.0 L572.8,402.3 L572.8,412.5 L571.9,418.3 L570.5,426.3 L568.3,436.5 L567.4,442.3 L568.3,450.3 L567.7,455.7 L566.1,463.7 L563.0,469.0 L560.8,474.9 L559.0,477.0 L560.3,486.6 L558.3,490.3 L558.1,498.3 L561.7,498.9 L563.0,502.6 L562.1,509.0 L561.7,518.1"/>
<path d="M559.4,499.9 L557.0,501.0 L556.3,506.3 L558.5,508.5 L559.4,505.3 L559.4,499.9"/>
<path d="M454.4,138.6 L453.3,134.1 L453.3,130.3 L455.1,127.1 L458.2,124.5 L462.6,122.9 L465.0,120.2 L467.9,118.9 L469.0,118.6 L471.9,118.2 L475.9,119.4 L478.2,119.7 L480.4,121.0 L482.6,122.1 L485.3,121.8 L486.6,121.0 L488.8,122.6 L489.9,122.1 L488.8,120.2 L487.5,119.1 L488.6,117.5 L488.1,116.2 L487.9,115.9 L490.6,114.9 L493.3,115.0 L495.0,115.7 L495.3,113.5 L496.1,115.4 L497.7,115.4 L501.7,114.9 L504.4,115.9 L506.6,118.6 L508.8,118.6 L511.5,116.7 L513.2,117.0 L515.5,119.7 L518.1,122.3 L518.8,125.5 L518.1,128.7 L519.5,131.4 L521.2,134.6 L522.6,137.8 L525.2,140.5 L525.7,142.9 L527.9,142.9 L529.0,142.1 L529.9,139.4 L530.3,134.1 L528.8,129.3 L527.9,125.5 L526.6,121.8 L524.8,117.5 L524.3,114.9 L524.1,113.3 L524.8,110.1 L526.1,106.9 L526.8,106.2 L528.3,104.7 L531.0,102.3 L533.7,100.2 L535.0,98.1 L537.0,96.4 L539.7,96.2 L541.7,93.5 L545.2,91.9 L546.6,90.6 L550.3,89.0 L550.3,86.1 L548.8,82.1 L548.3,79.9 L546.8,79.7 L547.0,77.0 L546.8,74.3 L546.1,71.7 L546.3,69.0 L546.6,67.4 L548.1,66.1 L547.7,69.0 L547.2,71.7 L548.8,73.3 L549.4,74.9 L548.4,78.6 L548.8,78.9 L550.1,76.5 L551.4,74.3 L552.6,71.9 L552.3,70.1 L551.0,67.4 L550.3,65.8 L550.6,66.6 L552.8,67.9 L553.2,69.3 L555.4,66.9 L556.8,64.7 L557.2,61.5 L556.1,61.0 L557.2,59.9 L557.7,58.3 L558.8,58.3 L561.7,57.3 L566.1,56.7 L566.8,56.6 L568.3,56.4 L568.8,54.6 L569.7,55.7 L570.5,55.7 L572.1,55.4 L572.3,54.3 L575.0,54.8 L575.4,53.5"/>
<path d="M572.5,54.1 L571.9,51.9 L570.5,51.4 L571.2,50.1 L572.3,49.5 L571.4,48.5 L571.9,47.2 L572.5,45.8 L574.1,44.5 L575.4,43.4"/>
<path d="M557.2,60.5 L559.4,60.5 L563.9,59.1 L566.5,58.1 L564.8,57.8 L563.4,58.6 L560.3,58.8 L558.5,59.1 L557.2,60.2"/>
<path d="M454.4,138.6 L451.9,143.7 L451.7,149.0 L451.7,154.3 L451.3,158.6 L453.3,163.4 L454.2,166.6 L456.8,170.9 L459.1,174.6 L460.4,177.3 L463.9,178.1 L466.2,180.2 L470.6,178.9 L474.2,177.8 L478.2,178.1 L480.4,176.2 L483.0,173.5 L483.9,170.9 L484.1,167.1 L484.8,165.0 L487.5,163.4 L491.5,162.3 L495.5,162.1 L499.0,162.1 L500.4,163.9 L499.9,166.6 L497.7,169.3 L497.3,173.0 L496.4,177.3 L495.7,179.9 L494.6,178.3 L493.7,178.6 L494.6,181.0 L494.1,183.7 L493.7,186.9 L492.4,190.6 L491.0,192.2 L492.4,192.5 L494.1,193.3 L496.4,192.2 L499.9,192.8 L503.9,191.9 L508.4,191.9 L511.5,192.7 L515.5,195.9 L516.4,197.3 L515.5,202.3 L515.0,207.7 L514.1,213.0 L513.9,218.3 L515.0,221.0 L517.2,223.7 L519.2,226.1 L520.8,229.0 L523.9,230.1 L526.8,229.5 L530.6,227.4 L532.8,225.8 L535.4,226.6 L539.9,229.5 L542.3,230.8 L544.3,234.3 L545.0,231.1 L547.0,229.0 L550.1,225.3 L550.6,221.0 L553.4,218.1 L556.3,216.7 L560.3,216.7 L564.8,213.5 L567.9,210.9 L570.1,211.9 L569.2,213.8 L566.3,216.7 L567.9,218.6 L567.9,221.5 L566.1,224.7 L567.4,228.5 L570.1,227.4 L570.1,223.7 L568.8,219.4 L571.0,217.3 L574.1,216.2 L575.0,213.5 L575.9,211.9"/>
<path d="M476.2,199.4 L476.4,195.7 L478.5,191.3 L484.1,191.3 L483.0,189.0 L479.8,185.0 L481.8,185.0 L481.8,182.0 L489.9,182.0 L489.7,192.2"/>
<path d="M489.9,182.0 L491.3,181.5 L491.9,179.9 L493.7,178.4"/>
<path d="M494.1,193.2 L489.9,196.6 L489.0,200.0 L488.1,201.3 L485.7,203.7"/>
<path d="M489.0,200.0 L492.8,202.4 L495.9,202.9 L496.3,205.3"/>
<path d="M498.1,207.8 L500.6,203.7 L503.5,202.9 L504.8,202.3 L508.8,198.1 L516.4,197.1"/>
<path d="M505.2,218.0 L508.8,218.6 L512.8,219.5 L514.4,218.7"/>
<path d="M519.2,226.1 L517.7,228.5 L517.7,234.1"/>
<path d="M542.3,230.8 L543.0,234.6 L539.9,238.5"/>
<path d="M535.7,269.3 L539.4,272.7 L542.1,274.9 L547.0,274.9 L551.4,277.8"/>
<path d="M529.2,295.1 L528.6,299.4 L532.3,300.7 L535.0,303.7 L537.7,295.1 L540.3,293.0 L545.7,290.9 L550.3,285.3 L551.4,277.8"/>
<path d="M551.4,277.8 L555.9,282.3 L559.0,283.7 L562.1,290.1 L567.0,288.7 L571.0,289.0 L574.8,291.4 L575.9,293.0"/>
<path d="M569.2,213.8 L566.1,215.1 L563.9,217.8 L561.7,223.7 L562.1,228.5 L564.5,232.2 L564.3,237.5 L566.1,239.7 L574.5,239.9 L575.9,242.3"/>
<path d="M575.0,438.6 L572.8,445.0 L574.5,453.0 L575.9,459.4 L573.2,464.7 L573.2,469.5 L570.1,472.7 L569.9,479.7 L571.2,482.9 L568.8,485.0 L567.4,490.3 L566.5,495.7 L567.2,501.0 L565.7,503.7 L567.2,509.0 L567.4,514.3 L569.2,518.1"/>
<path d="M573.3,374.9 L575.9,371.9"/>
<path d="M508.6,160.5 L511.5,159.7 L512.8,157.5 L516.4,154.6 L519.9,153.5 L523.5,153.8 L527.9,154.1 L531.9,155.9 L535.0,157.5 L539.4,158.3 L543.0,161.3 L548.3,164.2 L550.1,165.0 L554.1,166.9 L556.5,169.3 L555.9,170.1 L552.8,170.9 L548.3,170.6 L540.8,171.1 L543.0,168.2 L543.4,166.6 L539.0,166.6 L537.2,165.0 L536.3,162.1 L533.7,162.1 L530.6,161.3 L528.3,159.4 L525.2,159.1 L522.1,158.6 L521.2,157.5 L522.6,156.7 L518.1,155.9 L515.5,158.6 L512.8,160.2 L510.6,160.7 L508.6,160.5"/>
<path d="M517.2,160.2 L519.0,161.0 L519.0,162.3 L517.2,162.3 L516.8,161.0 L517.2,160.2"/>
<path d="M537.9,179.1 L539.9,178.3 L543.9,178.9 L547.0,180.2 L547.2,181.5 L544.3,181.8 L542.6,182.3 L539.4,181.3 L537.9,179.9 L537.9,179.1"/>
<path d="M575.9,171.9 L572.8,171.7 L570.5,170.9 L567.4,171.7 L566.1,171.7 L562.5,170.9 L559.9,171.1 L561.7,172.5 L562.8,173.5 L562.5,175.4 L564.5,177.8 L562.5,178.6 L559.0,178.1 L555.4,177.5 L555.2,179.1 L558.1,180.7 L561.7,179.9 L565.7,179.9 L567.2,181.0 L568.8,183.1 L570.1,180.5 L572.3,179.4 L575.0,178.9 L575.9,178.6"/>
<path d="M567.2,180.8 L566.1,177.8 L567.4,175.7 L567.2,171.9"/>
<path d="M560.3,175.9 L562.5,177.3 L560.8,176.7 L560.3,175.9"/>
<path d="M538.6,142.6 L540.6,145.3 L540.8,148.2 L539.4,147.4 L537.9,145.3 L538.6,142.6"/>
<path d="M535.0,134.6 L539.4,134.6 L539.9,135.4 L536.3,135.7 L535.0,134.6"/>
<path d="M540.6,133.5 L543.4,135.4 L543.9,138.3 L542.8,138.6 L542.6,136.2 L540.6,133.5"/>
<path d="M544.8,141.0 L547.4,142.6 L547.7,145.3 L547.0,143.1 L544.8,141.0"/>
<path d="M541.4,143.2 L542.8,143.6"/>
<path d="M549.4,145.5 L551.2,148.2 L550.8,148.5"/>
<path d="M551.4,150.9 L553.4,154.9"/>
<path d="M555.4,155.4 L557.7,157.0 L555.9,158.9"/>
<path d="M558.5,163.9 L561.7,163.4 L560.3,165.3 L558.5,163.9"/>
<path d="M561.0,157.5 L562.8,157.8"/>
<path d="M564.1,160.7 L567.9,160.5 L568.3,161.5"/>
<path d="M479.3,276.7 L481.0,278.3 L482.4,282.1 L479.7,282.6 L479.7,279.1 L479.3,276.7Z" fill="#000"/>
<path d="M483.7,279.9 L485.3,279.9 L484.8,281.0 L483.7,279.9"/>
<path d="M487.9,281.0 L489.3,281.3"/>
<path d="M193.9,169.6 L198.6,172.6 L195.2,177.3 L193.9,169.6"/>
<path d="M189.9,165.3 L193.0,166.3 L191.2,167.1 L189.9,165.3"/>
<path d="M187.2,163.9 L189.7,164.2"/>
<path d="M183.0,162.1 L185.4,163.4 L183.7,163.4 L183.0,162.1"/>
<path d="M176.3,159.1 L178.1,158.6 L177.9,160.2 L176.3,159.1"/>
<path d="M74.4,369.8 L78.4,369.3 L80.6,372.5 L78.0,374.3 L74.4,373.5 L74.4,369.8"/>
<path d="M80.2,366.3 L84.6,363.9 L87.3,363.4 L86.0,365.5 L83.3,366.6 L81.5,367.7 L80.2,366.3"/>
<path d="M85.5,367.1 L86.9,366.3"/>
<path d="M117.8,349.2 L120.0,349.8 L122.5,351.2 L124.8,352.4"/>
<path d="M118.5,350.0 L121.0,350.8 L123.0,352.0"/>
<path d="M46.0,239.1 L50.4,239.1 L50.4,240.2"/>
<path d="M186.1,266.3 L187.7,267.7 L186.6,267.7 L186.1,266.3"/>
<path d="M83.0,322.5 h1"/>
<path d="M100.6,510.3 L103.3,511.4 L101.5,512.2 L100.6,510.3"/>
<path d="M54.0,460.5 L55.3,463.1 L59.3,464.7 L61.5,467.7 L63.3,473.3 L65.5,471.9 L66.7,474.9 L68.4,477.3 L72.6,479.1 L77.1,477.3 L79.8,478.1 L78.9,482.3 L77.1,485.8 L73.1,485.8 L72.6,488.7 L72.2,491.9 L68.2,497.3 L65.5,498.9 L63.1,497.3 L64.7,494.1 L64.9,490.9 L62.4,489.3 L59.1,487.7 L58.9,486.1 L62.2,484.5 L62.7,480.2 L63.5,476.5 L62.0,473.8 L60.7,471.1 L57.1,466.3 L55.8,464.2 L54.0,460.5"/>
<path d="M39.8,510.1 L42.0,508.5 L44.2,506.3 L47.3,503.1 L48.2,500.5 L50.7,497.8 L51.3,494.6 L54.0,493.0 L55.3,495.7 L56.7,496.7 L59.8,495.7 L61.1,496.7 L60.9,499.7 L58.4,503.1 L56.7,505.8 L54.2,507.4 L54.4,509.5 L55.8,510.9 L52.7,511.1 L47.8,513.3 L47.1,518.1"/>
<path d="M226.0,356.5 h1"/>
<path d="M230.0,357.5 h1"/>
<path d="M233.0,358.5 h1"/>
<path d="M238.0,354.5 h1"/>
<path d="M241.0,354.5 h1"/>
<path d="M236.0,360.5 h1"/>
<path d="M238.0,362.5 h1"/>
<path d="M241.0,364.5 h1"/>
<path d="M245.0,366.5 h1"/>
<path d="M248.0,367.5 h1"/>
<path d="M251.0,368.5 h1"/>
<path d="M240.0,370.5 h1"/>
<path d="M254.0,362.5 h1"/>
<path d="M253.0,371.5 h1"/>
<path d="M258.0,372.5 h1"/>
<path d="M260.0,362.5 h1"/>
<path d="M264.0,362.5 h1"/>
<path d="M261.0,374.5 h1"/>
<path d="M260.0,379.5 h1"/>
<path d="M271.0,369.5 h1"/>
<path d="M277.0,375.5 h1"/>
<path d="M280.0,376.5 h1"/>
<path d="M271.0,388.5 h1"/>
<path d="M270.0,394.5 h1"/>
<path d="M285.0,392.5 h1"/>
<path d="M242.0,383.5 h1"/>
<path d="M222.0,372.5 h1"/>
<path d="M224.0,372.5 h1"/>
<path d="M202.0,367.5 h1"/>
<path d="M210.0,365.5 h1"/>
<path d="M212.0,365.5 h1"/>
<path d="M496.7,35.9 L495.3,38.9 L495.0,39.6 L495.9,39.1 L497.5,37.5 L498.1,35.9"/>
<path d="M499.3,35.9 L497.9,38.1 L497.2,40.7 L497.0,42.9 L495.7,46.1 L495.9,49.8 L496.1,52.5 L497.3,54.6 L499.0,54.9 L500.8,54.1 L502.4,51.4 L503.0,48.2 L501.9,44.5 L502.1,41.8 L503.0,39.1 L503.7,37.5 L505.7,37.0 L506.1,35.9"/>
<path d="M515.5,35.9 L515.9,38.6 L515.9,40.7 L514.6,42.1 L513.2,43.9 L515.2,42.9 L517.5,42.1 L519.0,44.5 L519.7,47.7 L519.5,49.8 L517.7,51.1 L516.8,51.7 L516.6,52.7 L515.2,54.4 L517.7,55.7 L519.5,56.2 L523.0,55.7 L525.2,54.1 L528.3,53.0 L531.5,51.7 L535.0,49.3 L535.4,48.5 L532.8,48.5 L529.7,49.8 L528.3,50.1 L526.1,49.5 L522.6,51.4 L519.5,53.0 L517.2,53.0 L516.6,52.7"/>
<path d="M519.9,47.7 L522.8,46.1 L523.0,42.3 L523.5,40.2 L524.8,37.5 L524.8,35.9"/>
<path d="M526.1,35.9 L526.6,39.1 L530.1,39.7 L531.2,38.1 L530.6,35.9"/>
<path d="M519.7,49.5 L519.9,47.7"/>
<path d="M535.4,48.5 L534.8,46.3 L531.5,46.1 L533.2,44.2 L537.2,42.9 L541.2,42.3 L543.9,42.3 L546.1,41.3 L547.4,41.8 L547.4,44.5 L544.8,46.1 L541.2,46.3 L537.2,45.8 L534.8,46.3"/>
<path d="M546.6,41.5 L549.2,39.7 L551.4,37.8 L554.1,37.0 L555.0,35.9"/>
<path d="M412.7,107.5 L419.5,113.5 L421.7,118.9 L427.5,122.4 L429.7,118.3 L435.5,118.2 L438.6,121.8 L440.4,126.1 L444.0,130.3 L445.7,136.2 L449.7,138.1 L454.4,138.6"/>
<path d="M575.9,299.4 L571.4,299.4 L566.5,301.3 L562.1,304.5 L560.8,309.3 L558.5,313.8 L557.2,317.0 L561.7,325.0 L565.2,330.3 L572.3,327.7 L572.3,335.7 L576.8,335.4"/>
<path d="M504.1,212.5 L505.7,212.7 L507.7,215.7 L509.2,217.8 L507.5,217.5 L505.2,215.4 L504.1,212.5"/>
<path d="M501.7,210.9 L503.0,211.4"/>
<path d="M525.7,132.2 L527.7,132.5 L527.5,134.3 L525.9,134.1 L525.7,132.2"/>
<path d="M224.0,357.5 h1"/>
<path d="M228.0,358.5 h1"/>
<path d="M231.0,356.5 h1"/>
<path d="M234.0,359.5 h1"/>
<path d="M236.0,357.5 h1"/>
<path d="M239.0,361.5 h1"/>
<path d="M242.0,362.5 h1"/>
<path d="M243.0,365.5 h1"/>
<path d="M246.0,365.5 h1"/>
<path d="M249.0,369.5 h1"/>
<path d="M244.0,368.5 h1"/>
<path d="M256.0,370.5 h1"/>
<path d="M234.0,362.5 h1"/>
</g>
<rect x="42" y="37" width="533" height="480" fill="none" stroke="#000" stroke-width="2" shape-rendering="crispEdges"/>
<g stroke="#000" stroke-width="1" shape-rendering="crispEdges">
<line x1="42.5" y1="518" x2="42.5" y2="520.5"/>
<line x1="86.5" y1="518" x2="86.5" y2="520.5"/>
<line x1="131.5" y1="518" x2="131.5" y2="520.5"/>
<line x1="175.5" y1="518" x2="175.5" y2="520.5"/>
<line x1="220.5" y1="518" x2="220.5" y2="520.5"/>
<line x1="264.5" y1="518" x2="264.5" y2="520.5"/>
<line x1="309.5" y1="518" x2="309.5" y2="520.5"/>
<line x1="353.5" y1="518" x2="353.5" y2="520.5"/>
<line x1="397.5" y1="518" x2="397.5" y2="520.5"/>
<line x1="442.5" y1="518" x2="442.5" y2="520.5"/>
<line x1="486.5" y1="518" x2="486.5" y2="520.5"/>
<line x1="531.5" y1="518" x2="531.5" y2="520.5"/>
<line x1="575.5" y1="518" x2="575.5" y2="520.5"/>
<line x1="38.5" y1="490.5" x2="41" y2="490.5"/>
<line x1="38.5" y1="437.5" x2="41" y2="437.5"/>
<line x1="38.5" y1="384.5" x2="41" y2="384.5"/>
<line x1="38.5" y1="330.5" x2="41" y2="330.5"/>
<line x1="38.5" y1="277.5" x2="41" y2="277.5"/>
<line x1="38.5" y1="224.5" x2="41" y2="224.5"/>
<line x1="38.5" y1="170.5" x2="41" y2="170.5"/>
<line x1="38.5" y1="117.5" x2="41" y2="117.5"/>
<line x1="38.5" y1="64.5" x2="41" y2="64.5"/>
</g>
<g font-family="Liberation Sans, sans-serif" font-size="10.4" fill="#000" style="filter:grayscale(1)">
<text x="42.7" y="531.6" text-anchor="middle" textLength="24.8" lengthAdjust="spacingAndGlyphs">170E</text>
<text x="87.1" y="531.6" text-anchor="middle" textLength="18.6" lengthAdjust="spacingAndGlyphs">180</text>
<text x="131.5" y="531.6" text-anchor="middle" textLength="25.6" lengthAdjust="spacingAndGlyphs">170W</text>
<text x="176.0" y="531.6" text-anchor="middle" textLength="25.6" lengthAdjust="spacingAndGlyphs">160W</text>
<text x="220.4" y="531.6" text-anchor="middle" textLength="25.6" lengthAdjust="spacingAndGlyphs">150W</text>
<text x="264.8" y="531.6" text-anchor="middle" textLength="25.6" lengthAdjust="spacingAndGlyphs">140W</text>
<text x="309.2" y="531.6" text-anchor="middle" textLength="25.6" lengthAdjust="spacingAndGlyphs">130W</text>
<text x="353.6" y="531.6" text-anchor="middle" textLength="25.6" lengthAdjust="spacingAndGlyphs">120W</text>
<text x="398.0" y="531.6" text-anchor="middle" textLength="25.6" lengthAdjust="spacingAndGlyphs">110W</text>
<text x="442.5" y="531.6" text-anchor="middle" textLength="25.6" lengthAdjust="spacingAndGlyphs">100W</text>
<text x="486.9" y="531.6" text-anchor="middle" textLength="19.6" lengthAdjust="spacingAndGlyphs">90W</text>
<text x="531.3" y="531.6" text-anchor="middle" textLength="19.6" lengthAdjust="spacingAndGlyphs">80W</text>
<text x="575.7" y="531.6" text-anchor="middle" textLength="19.6" lengthAdjust="spacingAndGlyphs">70W</text>
<text x="36.2" y="494.6" text-anchor="end" textLength="19.4" lengthAdjust="spacingAndGlyphs">40S</text>
<text x="36.2" y="441.3" text-anchor="end" textLength="19.4" lengthAdjust="spacingAndGlyphs">30S</text>
<text x="36.2" y="388.0" text-anchor="end" textLength="19.4" lengthAdjust="spacingAndGlyphs">20S</text>
<text x="36.2" y="334.6" text-anchor="end" textLength="19.4" lengthAdjust="spacingAndGlyphs">10S</text>
<text x="36.2" y="281.3" text-anchor="end" textLength="13.2" lengthAdjust="spacingAndGlyphs">EQ</text>
<text x="36.2" y="228.0" text-anchor="end" textLength="19.4" lengthAdjust="spacingAndGlyphs">10N</text>
<text x="36.2" y="174.6" text-anchor="end" textLength="19.4" lengthAdjust="spacingAndGlyphs">20N</text>
<text x="36.2" y="121.3" text-anchor="end" textLength="19.4" lengthAdjust="spacingAndGlyphs">30N</text>
<text x="36.2" y="68.0" text-anchor="end" textLength="19.4" lengthAdjust="spacingAndGlyphs">40N</text>
</g>
<g font-family="Liberation Sans, sans-serif" font-size="24.4" fill="#000" stroke="#fff" stroke-width="0.22" style="filter:grayscale(1)">
<text x="30.2" y="24.6" textLength="29.6" lengthAdjust="spacingAndGlyphs">20</text>
<text x="71.6" y="24.6" textLength="42.0" lengthAdjust="spacingAndGlyphs">FEB</text>
<text x="127.0" y="24.6" textLength="58.8" lengthAdjust="spacingAndGlyphs">2025</text>
<text x="199.0" y="24.6" textLength="51.0" lengthAdjust="spacingAndGlyphs">06Z,</text>
<text x="302.0" y="24.6" textLength="14.0" lengthAdjust="spacingAndGlyphs">0</text>
<text x="330.2" y="24.6" textLength="22.0" lengthAdjust="spacingAndGlyphs">to</text>
<text x="377.8" y="24.6" textLength="29.4" lengthAdjust="spacingAndGlyphs">24</text>
<text x="422.5" y="24.6" textLength="20.2" lengthAdjust="spacingAndGlyphs">hr</text>
<text x="456.5" y="24.6" textLength="60.5" lengthAdjust="spacingAndGlyphs">CURR</text>
<text x="531.0" y="24.6" textLength="56.7" lengthAdjust="spacingAndGlyphs">THDV</text>
</g>
<g shape-rendering="crispEdges">
<rect x="85.30" y="552" width="35.81" height="16" fill="#a000c8"/>
<rect x="120.61" y="552" width="35.81" height="16" fill="#8200dc"/>
<rect x="155.92" y="552" width="35.81" height="16" fill="#1e3cff"/>
<rect x="191.23" y="552" width="35.81" height="16" fill="#00a0ff"/>
<rect x="226.54" y="552" width="35.81" height="16" fill="#00c8c8"/>
<rect x="261.85" y="552" width="35.81" height="16" fill="#00d28c"/>
<rect x="297.16" y="552" width="35.81" height="16" fill="#00dc00"/>
<rect x="332.47" y="552" width="35.81" height="16" fill="#a0e632"/>
<rect x="367.78" y="552" width="35.81" height="16" fill="#e6dc32"/>
<rect x="403.09" y="552" width="35.81" height="16" fill="#e6af2d"/>
<rect x="438.40" y="552" width="35.81" height="16" fill="#f08228"/>
<rect x="473.71" y="552" width="35.81" height="16" fill="#fa3c3c"/>
<polygon points="85.3,552 51,560 85.3,568.5" fill="#aaaaaa"/>
<polygon points="509.0,552 546.5,560 509.0,568.5" fill="#f00082"/>
</g>
<g stroke="#000" stroke-width="1" fill="none">
<path d="M85.3,568.5 H510.0" shape-rendering="crispEdges"/>
<line x1="85.5" y1="552" x2="85.5" y2="569" shape-rendering="crispEdges"/>
<line x1="121.5" y1="552" x2="121.5" y2="569" shape-rendering="crispEdges"/>
<line x1="156.5" y1="552" x2="156.5" y2="569" shape-rendering="crispEdges"/>
<line x1="191.5" y1="552" x2="191.5" y2="569" shape-rendering="crispEdges"/>
<line x1="227.5" y1="552" x2="227.5" y2="569" shape-rendering="crispEdges"/>
<line x1="262.5" y1="552" x2="262.5" y2="569" shape-rendering="crispEdges"/>
<line x1="297.5" y1="552" x2="297.5" y2="569" shape-rendering="crispEdges"/>
<line x1="332.5" y1="552" x2="332.5" y2="569" shape-rendering="crispEdges"/>
<line x1="368.5" y1="552" x2="368.5" y2="569" shape-rendering="crispEdges"/>
<line x1="403.5" y1="552" x2="403.5" y2="569" shape-rendering="crispEdges"/>
<line x1="438.5" y1="552" x2="438.5" y2="569" shape-rendering="crispEdges"/>
<line x1="474.5" y1="552" x2="474.5" y2="569" shape-rendering="crispEdges"/>
<line x1="509.5" y1="552" x2="509.5" y2="569" shape-rendering="crispEdges"/>
<path d="M85.3,552.3 L51,560 L85.3,568.6" stroke-dasharray="3 2"/>
<path d="M509.0,552.3 L546.5,560 L509.0,568.6" stroke-dasharray="3 2"/>
</g>
<g font-family="Liberation Sans, sans-serif" font-size="13.3" fill="#000" text-anchor="middle" style="filter:grayscale(1)">
<text x="86.6" y="582.1" textLength="28.6" lengthAdjust="spacingAndGlyphs">−24</text>
<text x="121.9" y="582.1" textLength="28.6" lengthAdjust="spacingAndGlyphs">−20</text>
<text x="157.2" y="582.1" textLength="28.6" lengthAdjust="spacingAndGlyphs">−16</text>
<text x="192.5" y="582.1" textLength="28.6" lengthAdjust="spacingAndGlyphs">−12</text>
<text x="227.8" y="582.1" textLength="19.5" lengthAdjust="spacingAndGlyphs">−8</text>
<text x="263.2" y="582.1" textLength="19.5" lengthAdjust="spacingAndGlyphs">−4</text>
<text x="298.5" y="582.1" textLength="8.2" lengthAdjust="spacingAndGlyphs">0</text>
<text x="333.8" y="582.1" textLength="8.2" lengthAdjust="spacingAndGlyphs">4</text>
<text x="369.1" y="582.1" textLength="8.2" lengthAdjust="spacingAndGlyphs">8</text>
<text x="404.4" y="582.1" textLength="15.6" lengthAdjust="spacingAndGlyphs">12</text>
<text x="439.7" y="582.1" textLength="15.6" lengthAdjust="spacingAndGlyphs">16</text>
<text x="475.0" y="582.1" textLength="15.6" lengthAdjust="spacingAndGlyphs">20</text>
<text x="510.3" y="582.1" textLength="15.6" lengthAdjust="spacingAndGlyphs">24</text>
</g>
<g font-family="Liberation Sans, sans-serif" font-size="19.5" fill="#000" style="filter:grayscale(1)">
<text x="296.8" y="611.3" style="font-size:21.5px" textLength="7.6" lengthAdjust="spacingAndGlyphs">(</text>
<text x="313.6" y="611.4" textLength="12.6" lengthAdjust="spacingAndGlyphs">C</text>
<text x="342.6" y="611.3" style="font-size:21.5px" textLength="7.6" lengthAdjust="spacingAndGlyphs">)</text>
</g>
</svg>
</body></html>
